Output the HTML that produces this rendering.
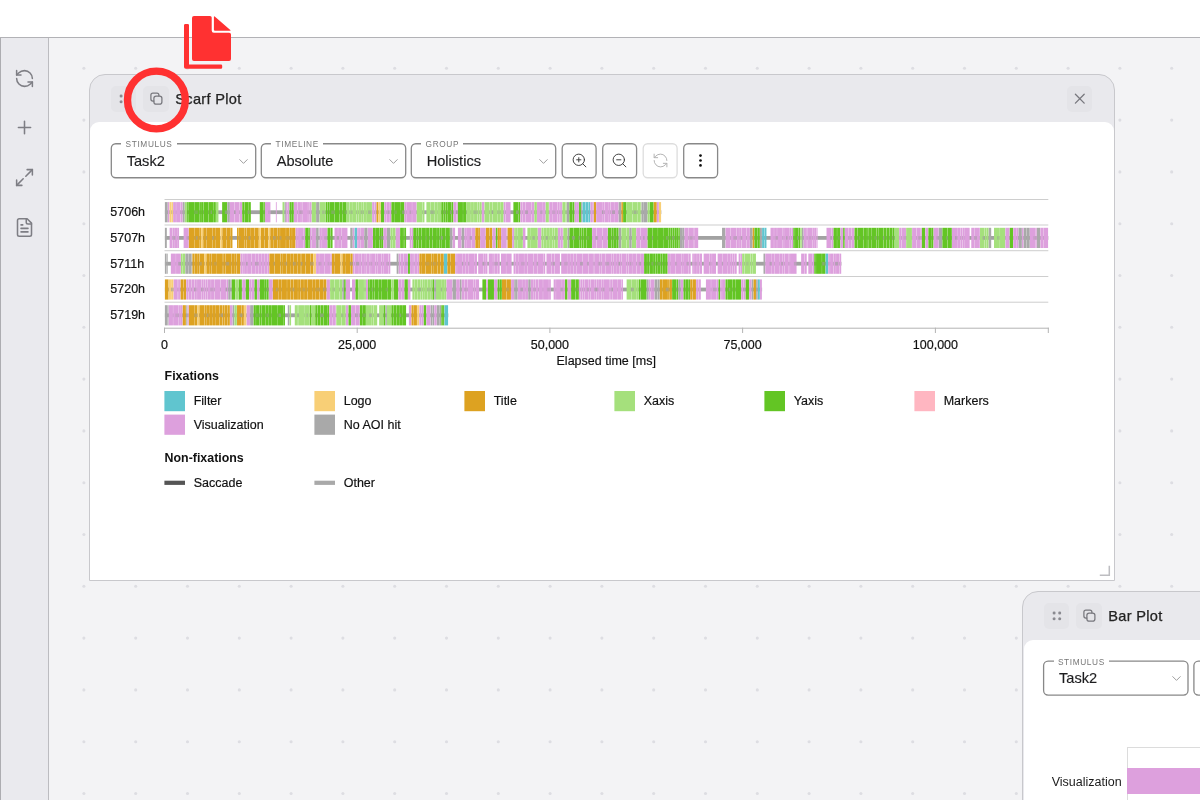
<!DOCTYPE html>
<html lang="en">
<head>
<meta charset="utf-8">
<title>Scarf Plot – duplicate button</title>
<style>
*{box-sizing:border-box;margin:0;padding:0}
html,body{width:1200px;height:800px;overflow:hidden;background:#fff}
body{position:relative;font-family:"Liberation Sans",Arial,sans-serif;color:#1c1c1e}
.abs{position:absolute}
#app{left:0;top:37px;width:1200px;height:763px;background:#f3f3f5;border-top:1px solid #b2b2b6}
#lb{left:0;top:38px;width:1px;height:762px;background:#adadb1}
#side{left:1px;top:38px;width:48px;height:762px;background:#eaeaee;border-right:1px solid #bcbcc0}
.sic{position:absolute;left:13px;width:21px;height:21px;stroke:#7e7e84;stroke-width:1.75;fill:none;stroke-linecap:round;stroke-linejoin:round}
#dots{left:0;top:0;width:1200px;height:800px;fill:#dddde2}
.win{position:absolute;background:#e9e9ed;border:1px solid #c8c8cc;border-radius:16px 16px 0 0}
.body{position:absolute;background:#fff;border-radius:9px 9px 0 0}
.hb{position:absolute;width:25.6px;height:25.6px;border-radius:5px;background:#e4e4e8}
.hb svg{position:absolute;left:0;top:0;width:100%;height:100%;overflow:visible}
.ttl{position:absolute;font-size:14.6px;line-height:16px;letter-spacing:0.3px;white-space:nowrap;color:#222;-webkit-text-stroke:0.25px #222}
.sel{position:absolute;width:143.4px;height:33px}
.sel .lb{position:absolute;left:9.500px;top:-4.800px;padding:0 4.300px;background:#fff;font-size:8.3px;line-height:10px;letter-spacing:0.62px;color:#777;white-space:nowrap}
.sel .v{-webkit-text-stroke:0.15px #1d1d1f;position:absolute;left:14.900px;top:8.500px;font-size:14.6px;line-height:16px;white-space:nowrap;color:#1d1d1f}
.sel svg{position:absolute;right:3.900px;top:9.600px;width:15px;height:15px;stroke:#939393;stroke-width:1.45;fill:none;stroke-linecap:round;stroke-linejoin:round}
.tb{position:absolute;top:144.5px;width:32.8px;height:32.8px}
.tb svg{position:absolute;left:8.200px;top:7.800px;width:17px;height:17px;stroke:#3a3a3a;stroke-width:1.35;fill:none;stroke-linecap:round;stroke-linejoin:round}
.tb.dis svg{stroke:#b0b0b0}
#chart{left:0;top:0;width:1200px;height:800px;overflow:visible}
#chart .ax{font-size:12.5px;fill:#111;stroke:#111;stroke-width:0.18px}
#chart .lh{font-size:12.4px;font-weight:bold;fill:#111}
#ann{left:0;top:0;width:1200px;height:800px;overflow:visible}
</style>
</head>
<body>
<div id="app" class="abs"></div>
<div id="lb" class="abs"></div>
<div id="side" class="abs">
  <svg class="sic" style="top:29.5px" viewBox="0 0 24 24"><path d="M21 12a9 9 0 0 0-9-9 9.75 9.75 0 0 0-6.74 2.74L3 8"/><path d="M3 3v5h5"/><path d="M3 12a9 9 0 0 0 9 9 9.75 9.75 0 0 0 6.74-2.740L21 16"/><path d="M16 16h5v5"/></svg>
  <svg class="sic" style="top:79.3px" viewBox="0 0 24 24"><path d="M5 12h14"/><path d="M12 5v14"/></svg>
  <svg class="sic" style="top:128.7px" viewBox="0 0 24 24"><path d="M15 3h6v6"/><path d="M9 21H3v-6"/><path d="M21 3l-7.500 7.500"/><path d="M3 21l7.500-7.500"/></svg>
  <svg class="sic" style="top:178.5px" viewBox="0 0 24 24"><path d="M15 2H6a2 2 0 0 0-2 2v16a2 2 0 0 0 2 2h12a2 2 0 0 0 2-2V7Z"/><path d="M14 2v4a2 2 0 0 0 2 2h4"/><path d="M10 9H8"/><path d="M16 13H8"/><path d="M16 17H8"/></svg>
</div>
<svg id="dots" class="abs" viewBox="0 0 1200 800"><circle cx="83.9" cy="68.3" r="1.55"/><circle cx="135.7" cy="68.3" r="1.55"/><circle cx="187.5" cy="68.3" r="1.55"/><circle cx="239.3" cy="68.3" r="1.55"/><circle cx="291.1" cy="68.3" r="1.55"/><circle cx="342.9" cy="68.3" r="1.55"/><circle cx="394.7" cy="68.3" r="1.55"/><circle cx="446.5" cy="68.3" r="1.55"/><circle cx="498.3" cy="68.3" r="1.55"/><circle cx="550.1" cy="68.3" r="1.55"/><circle cx="601.9" cy="68.3" r="1.55"/><circle cx="653.7" cy="68.3" r="1.55"/><circle cx="705.5" cy="68.3" r="1.55"/><circle cx="757.3" cy="68.3" r="1.55"/><circle cx="809.1" cy="68.3" r="1.55"/><circle cx="860.9" cy="68.3" r="1.55"/><circle cx="912.7" cy="68.3" r="1.55"/><circle cx="964.5" cy="68.3" r="1.55"/><circle cx="1016.3" cy="68.3" r="1.55"/><circle cx="1068.1" cy="68.3" r="1.55"/><circle cx="1119.9" cy="68.3" r="1.55"/><circle cx="1171.7" cy="68.3" r="1.55"/><circle cx="83.9" cy="120.1" r="1.55"/><circle cx="135.7" cy="120.1" r="1.55"/><circle cx="187.5" cy="120.1" r="1.55"/><circle cx="239.3" cy="120.1" r="1.55"/><circle cx="291.1" cy="120.1" r="1.55"/><circle cx="342.9" cy="120.1" r="1.55"/><circle cx="394.7" cy="120.1" r="1.55"/><circle cx="446.5" cy="120.1" r="1.55"/><circle cx="498.3" cy="120.1" r="1.55"/><circle cx="550.1" cy="120.1" r="1.55"/><circle cx="601.9" cy="120.1" r="1.55"/><circle cx="653.7" cy="120.1" r="1.55"/><circle cx="705.5" cy="120.1" r="1.55"/><circle cx="757.3" cy="120.1" r="1.55"/><circle cx="809.1" cy="120.1" r="1.55"/><circle cx="860.9" cy="120.1" r="1.55"/><circle cx="912.7" cy="120.1" r="1.55"/><circle cx="964.5" cy="120.1" r="1.55"/><circle cx="1016.3" cy="120.1" r="1.55"/><circle cx="1068.1" cy="120.1" r="1.55"/><circle cx="1119.9" cy="120.1" r="1.55"/><circle cx="1171.7" cy="120.1" r="1.55"/><circle cx="83.9" cy="171.9" r="1.55"/><circle cx="135.7" cy="171.9" r="1.55"/><circle cx="187.5" cy="171.9" r="1.55"/><circle cx="239.3" cy="171.9" r="1.55"/><circle cx="291.1" cy="171.9" r="1.55"/><circle cx="342.9" cy="171.9" r="1.55"/><circle cx="394.7" cy="171.9" r="1.55"/><circle cx="446.5" cy="171.9" r="1.55"/><circle cx="498.3" cy="171.9" r="1.55"/><circle cx="550.1" cy="171.9" r="1.55"/><circle cx="601.9" cy="171.9" r="1.55"/><circle cx="653.7" cy="171.9" r="1.55"/><circle cx="705.5" cy="171.9" r="1.55"/><circle cx="757.3" cy="171.9" r="1.55"/><circle cx="809.1" cy="171.9" r="1.55"/><circle cx="860.9" cy="171.9" r="1.55"/><circle cx="912.7" cy="171.9" r="1.55"/><circle cx="964.5" cy="171.9" r="1.55"/><circle cx="1016.3" cy="171.9" r="1.55"/><circle cx="1068.1" cy="171.9" r="1.55"/><circle cx="1119.9" cy="171.9" r="1.55"/><circle cx="1171.7" cy="171.9" r="1.55"/><circle cx="83.9" cy="223.7" r="1.55"/><circle cx="135.7" cy="223.7" r="1.55"/><circle cx="187.5" cy="223.7" r="1.55"/><circle cx="239.3" cy="223.7" r="1.55"/><circle cx="291.1" cy="223.7" r="1.55"/><circle cx="342.9" cy="223.7" r="1.55"/><circle cx="394.7" cy="223.7" r="1.55"/><circle cx="446.5" cy="223.7" r="1.55"/><circle cx="498.3" cy="223.7" r="1.55"/><circle cx="550.1" cy="223.7" r="1.55"/><circle cx="601.9" cy="223.7" r="1.55"/><circle cx="653.7" cy="223.7" r="1.55"/><circle cx="705.5" cy="223.7" r="1.55"/><circle cx="757.3" cy="223.7" r="1.55"/><circle cx="809.1" cy="223.7" r="1.55"/><circle cx="860.9" cy="223.7" r="1.55"/><circle cx="912.7" cy="223.7" r="1.55"/><circle cx="964.5" cy="223.7" r="1.55"/><circle cx="1016.3" cy="223.7" r="1.55"/><circle cx="1068.1" cy="223.7" r="1.55"/><circle cx="1119.9" cy="223.7" r="1.55"/><circle cx="1171.7" cy="223.7" r="1.55"/><circle cx="83.9" cy="275.5" r="1.55"/><circle cx="135.7" cy="275.5" r="1.55"/><circle cx="187.5" cy="275.5" r="1.55"/><circle cx="239.3" cy="275.5" r="1.55"/><circle cx="291.1" cy="275.5" r="1.55"/><circle cx="342.9" cy="275.5" r="1.55"/><circle cx="394.7" cy="275.5" r="1.55"/><circle cx="446.5" cy="275.5" r="1.55"/><circle cx="498.3" cy="275.5" r="1.55"/><circle cx="550.1" cy="275.5" r="1.55"/><circle cx="601.9" cy="275.5" r="1.55"/><circle cx="653.7" cy="275.5" r="1.55"/><circle cx="705.5" cy="275.5" r="1.55"/><circle cx="757.3" cy="275.5" r="1.55"/><circle cx="809.1" cy="275.5" r="1.55"/><circle cx="860.9" cy="275.5" r="1.55"/><circle cx="912.7" cy="275.5" r="1.55"/><circle cx="964.5" cy="275.5" r="1.55"/><circle cx="1016.3" cy="275.5" r="1.55"/><circle cx="1068.1" cy="275.5" r="1.55"/><circle cx="1119.9" cy="275.5" r="1.55"/><circle cx="1171.7" cy="275.5" r="1.55"/><circle cx="83.9" cy="327.3" r="1.55"/><circle cx="135.7" cy="327.3" r="1.55"/><circle cx="187.5" cy="327.3" r="1.55"/><circle cx="239.3" cy="327.3" r="1.55"/><circle cx="291.1" cy="327.3" r="1.55"/><circle cx="342.9" cy="327.3" r="1.55"/><circle cx="394.7" cy="327.3" r="1.55"/><circle cx="446.5" cy="327.3" r="1.55"/><circle cx="498.3" cy="327.3" r="1.55"/><circle cx="550.1" cy="327.3" r="1.55"/><circle cx="601.9" cy="327.3" r="1.55"/><circle cx="653.7" cy="327.3" r="1.55"/><circle cx="705.5" cy="327.3" r="1.55"/><circle cx="757.3" cy="327.3" r="1.55"/><circle cx="809.1" cy="327.3" r="1.55"/><circle cx="860.9" cy="327.3" r="1.55"/><circle cx="912.7" cy="327.3" r="1.55"/><circle cx="964.5" cy="327.3" r="1.55"/><circle cx="1016.3" cy="327.3" r="1.55"/><circle cx="1068.1" cy="327.3" r="1.55"/><circle cx="1119.9" cy="327.3" r="1.55"/><circle cx="1171.7" cy="327.3" r="1.55"/><circle cx="83.9" cy="379.1" r="1.55"/><circle cx="135.7" cy="379.1" r="1.55"/><circle cx="187.5" cy="379.1" r="1.55"/><circle cx="239.3" cy="379.1" r="1.55"/><circle cx="291.1" cy="379.1" r="1.55"/><circle cx="342.9" cy="379.1" r="1.55"/><circle cx="394.7" cy="379.1" r="1.55"/><circle cx="446.5" cy="379.1" r="1.55"/><circle cx="498.3" cy="379.1" r="1.55"/><circle cx="550.1" cy="379.1" r="1.55"/><circle cx="601.9" cy="379.1" r="1.55"/><circle cx="653.7" cy="379.1" r="1.55"/><circle cx="705.5" cy="379.1" r="1.55"/><circle cx="757.3" cy="379.1" r="1.55"/><circle cx="809.1" cy="379.1" r="1.55"/><circle cx="860.9" cy="379.1" r="1.55"/><circle cx="912.7" cy="379.1" r="1.55"/><circle cx="964.5" cy="379.1" r="1.55"/><circle cx="1016.3" cy="379.1" r="1.55"/><circle cx="1068.1" cy="379.1" r="1.55"/><circle cx="1119.9" cy="379.1" r="1.55"/><circle cx="1171.7" cy="379.1" r="1.55"/><circle cx="83.9" cy="430.9" r="1.55"/><circle cx="135.7" cy="430.9" r="1.55"/><circle cx="187.5" cy="430.9" r="1.55"/><circle cx="239.3" cy="430.9" r="1.55"/><circle cx="291.1" cy="430.9" r="1.55"/><circle cx="342.9" cy="430.9" r="1.55"/><circle cx="394.7" cy="430.9" r="1.55"/><circle cx="446.5" cy="430.9" r="1.55"/><circle cx="498.3" cy="430.9" r="1.55"/><circle cx="550.1" cy="430.9" r="1.55"/><circle cx="601.9" cy="430.9" r="1.55"/><circle cx="653.7" cy="430.9" r="1.55"/><circle cx="705.5" cy="430.9" r="1.55"/><circle cx="757.3" cy="430.9" r="1.55"/><circle cx="809.1" cy="430.9" r="1.55"/><circle cx="860.9" cy="430.9" r="1.55"/><circle cx="912.7" cy="430.9" r="1.55"/><circle cx="964.5" cy="430.9" r="1.55"/><circle cx="1016.3" cy="430.9" r="1.55"/><circle cx="1068.1" cy="430.9" r="1.55"/><circle cx="1119.9" cy="430.9" r="1.55"/><circle cx="1171.7" cy="430.9" r="1.55"/><circle cx="83.9" cy="482.7" r="1.55"/><circle cx="135.7" cy="482.7" r="1.55"/><circle cx="187.5" cy="482.7" r="1.55"/><circle cx="239.3" cy="482.7" r="1.55"/><circle cx="291.1" cy="482.7" r="1.55"/><circle cx="342.9" cy="482.7" r="1.55"/><circle cx="394.7" cy="482.7" r="1.55"/><circle cx="446.5" cy="482.7" r="1.55"/><circle cx="498.3" cy="482.7" r="1.55"/><circle cx="550.1" cy="482.7" r="1.55"/><circle cx="601.9" cy="482.7" r="1.55"/><circle cx="653.7" cy="482.7" r="1.55"/><circle cx="705.5" cy="482.7" r="1.55"/><circle cx="757.3" cy="482.7" r="1.55"/><circle cx="809.1" cy="482.7" r="1.55"/><circle cx="860.9" cy="482.7" r="1.55"/><circle cx="912.7" cy="482.7" r="1.55"/><circle cx="964.5" cy="482.7" r="1.55"/><circle cx="1016.3" cy="482.7" r="1.55"/><circle cx="1068.1" cy="482.7" r="1.55"/><circle cx="1119.9" cy="482.7" r="1.55"/><circle cx="1171.7" cy="482.7" r="1.55"/><circle cx="83.9" cy="534.5" r="1.55"/><circle cx="135.7" cy="534.5" r="1.55"/><circle cx="187.5" cy="534.5" r="1.55"/><circle cx="239.3" cy="534.5" r="1.55"/><circle cx="291.1" cy="534.5" r="1.55"/><circle cx="342.9" cy="534.5" r="1.55"/><circle cx="394.7" cy="534.5" r="1.55"/><circle cx="446.5" cy="534.5" r="1.55"/><circle cx="498.3" cy="534.5" r="1.55"/><circle cx="550.1" cy="534.5" r="1.55"/><circle cx="601.9" cy="534.5" r="1.55"/><circle cx="653.7" cy="534.5" r="1.55"/><circle cx="705.5" cy="534.5" r="1.55"/><circle cx="757.3" cy="534.5" r="1.55"/><circle cx="809.1" cy="534.5" r="1.55"/><circle cx="860.9" cy="534.5" r="1.55"/><circle cx="912.7" cy="534.5" r="1.55"/><circle cx="964.5" cy="534.5" r="1.55"/><circle cx="1016.3" cy="534.5" r="1.55"/><circle cx="1068.1" cy="534.5" r="1.55"/><circle cx="1119.9" cy="534.5" r="1.55"/><circle cx="1171.7" cy="534.5" r="1.55"/><circle cx="83.9" cy="586.3" r="1.55"/><circle cx="135.7" cy="586.3" r="1.55"/><circle cx="187.5" cy="586.3" r="1.55"/><circle cx="239.3" cy="586.3" r="1.55"/><circle cx="291.1" cy="586.3" r="1.55"/><circle cx="342.9" cy="586.3" r="1.55"/><circle cx="394.7" cy="586.3" r="1.55"/><circle cx="446.5" cy="586.3" r="1.55"/><circle cx="498.3" cy="586.3" r="1.55"/><circle cx="550.1" cy="586.3" r="1.55"/><circle cx="601.9" cy="586.3" r="1.55"/><circle cx="653.7" cy="586.3" r="1.55"/><circle cx="705.5" cy="586.3" r="1.55"/><circle cx="757.3" cy="586.3" r="1.55"/><circle cx="809.1" cy="586.3" r="1.55"/><circle cx="860.9" cy="586.3" r="1.55"/><circle cx="912.7" cy="586.3" r="1.55"/><circle cx="964.5" cy="586.3" r="1.55"/><circle cx="1016.3" cy="586.3" r="1.55"/><circle cx="1068.1" cy="586.3" r="1.55"/><circle cx="1119.9" cy="586.3" r="1.55"/><circle cx="1171.7" cy="586.3" r="1.55"/><circle cx="83.9" cy="638.1" r="1.55"/><circle cx="135.7" cy="638.1" r="1.55"/><circle cx="187.5" cy="638.1" r="1.55"/><circle cx="239.3" cy="638.1" r="1.55"/><circle cx="291.1" cy="638.1" r="1.55"/><circle cx="342.9" cy="638.1" r="1.55"/><circle cx="394.7" cy="638.1" r="1.55"/><circle cx="446.5" cy="638.1" r="1.55"/><circle cx="498.3" cy="638.1" r="1.55"/><circle cx="550.1" cy="638.1" r="1.55"/><circle cx="601.9" cy="638.1" r="1.55"/><circle cx="653.7" cy="638.1" r="1.55"/><circle cx="705.5" cy="638.1" r="1.55"/><circle cx="757.3" cy="638.1" r="1.55"/><circle cx="809.1" cy="638.1" r="1.55"/><circle cx="860.9" cy="638.1" r="1.55"/><circle cx="912.7" cy="638.1" r="1.55"/><circle cx="964.5" cy="638.1" r="1.55"/><circle cx="1016.3" cy="638.1" r="1.55"/><circle cx="1068.1" cy="638.1" r="1.55"/><circle cx="1119.9" cy="638.1" r="1.55"/><circle cx="1171.7" cy="638.1" r="1.55"/><circle cx="83.9" cy="689.9" r="1.55"/><circle cx="135.7" cy="689.9" r="1.55"/><circle cx="187.5" cy="689.9" r="1.55"/><circle cx="239.3" cy="689.9" r="1.55"/><circle cx="291.1" cy="689.9" r="1.55"/><circle cx="342.9" cy="689.9" r="1.55"/><circle cx="394.7" cy="689.9" r="1.55"/><circle cx="446.5" cy="689.9" r="1.55"/><circle cx="498.3" cy="689.9" r="1.55"/><circle cx="550.1" cy="689.9" r="1.55"/><circle cx="601.9" cy="689.9" r="1.55"/><circle cx="653.7" cy="689.9" r="1.55"/><circle cx="705.5" cy="689.9" r="1.55"/><circle cx="757.3" cy="689.9" r="1.55"/><circle cx="809.1" cy="689.9" r="1.55"/><circle cx="860.9" cy="689.9" r="1.55"/><circle cx="912.7" cy="689.9" r="1.55"/><circle cx="964.5" cy="689.9" r="1.55"/><circle cx="1016.3" cy="689.9" r="1.55"/><circle cx="1068.1" cy="689.9" r="1.55"/><circle cx="1119.9" cy="689.9" r="1.55"/><circle cx="1171.7" cy="689.9" r="1.55"/><circle cx="83.9" cy="741.7" r="1.55"/><circle cx="135.7" cy="741.7" r="1.55"/><circle cx="187.5" cy="741.7" r="1.55"/><circle cx="239.3" cy="741.7" r="1.55"/><circle cx="291.1" cy="741.7" r="1.55"/><circle cx="342.9" cy="741.7" r="1.55"/><circle cx="394.7" cy="741.7" r="1.55"/><circle cx="446.5" cy="741.7" r="1.55"/><circle cx="498.3" cy="741.7" r="1.55"/><circle cx="550.1" cy="741.7" r="1.55"/><circle cx="601.9" cy="741.7" r="1.55"/><circle cx="653.7" cy="741.7" r="1.55"/><circle cx="705.5" cy="741.7" r="1.55"/><circle cx="757.3" cy="741.7" r="1.55"/><circle cx="809.1" cy="741.7" r="1.55"/><circle cx="860.9" cy="741.7" r="1.55"/><circle cx="912.7" cy="741.7" r="1.55"/><circle cx="964.5" cy="741.7" r="1.55"/><circle cx="1016.3" cy="741.7" r="1.55"/><circle cx="1068.1" cy="741.7" r="1.55"/><circle cx="1119.9" cy="741.7" r="1.55"/><circle cx="1171.7" cy="741.7" r="1.55"/><circle cx="83.9" cy="793.5" r="1.55"/><circle cx="135.7" cy="793.5" r="1.55"/><circle cx="187.5" cy="793.5" r="1.55"/><circle cx="239.3" cy="793.5" r="1.55"/><circle cx="291.1" cy="793.5" r="1.55"/><circle cx="342.9" cy="793.5" r="1.55"/><circle cx="394.7" cy="793.5" r="1.55"/><circle cx="446.5" cy="793.5" r="1.55"/><circle cx="498.3" cy="793.5" r="1.55"/><circle cx="550.1" cy="793.5" r="1.55"/><circle cx="601.9" cy="793.5" r="1.55"/><circle cx="653.7" cy="793.5" r="1.55"/><circle cx="705.5" cy="793.5" r="1.55"/><circle cx="757.3" cy="793.5" r="1.55"/><circle cx="809.1" cy="793.5" r="1.55"/><circle cx="860.9" cy="793.5" r="1.55"/><circle cx="912.7" cy="793.5" r="1.55"/><circle cx="964.5" cy="793.5" r="1.55"/><circle cx="1016.3" cy="793.5" r="1.55"/><circle cx="1068.1" cy="793.5" r="1.55"/><circle cx="1119.9" cy="793.5" r="1.55"/><circle cx="1171.7" cy="793.5" r="1.55"/></svg>

<!-- Scarf Plot window -->
<div class="win" style="left:89.1px;top:73.8px;width:1026px;height:507.2px">
</div>
<div class="body" style="left:90.300px;top:122.200px;width:1023.700px;height:457.800px"></div>
<div class="hb" style="left:110.6px;top:86.1px"><svg viewBox="0 0 25.6 25.6"><g fill="#8a8a90"><circle cx="10.100" cy="10.100" r="1.500"/><circle cx="15.700" cy="10.100" r="1.500"/><circle cx="10.100" cy="15.700" r="1.500"/><circle cx="15.700" cy="15.700" r="1.500"/></g></svg></div>
<div class="hb" style="left:143px;top:86.1px"><svg viewBox="0 0 25.6 25.6"><g fill="none" stroke="#77777d" stroke-width="1.25" stroke-linejoin="round" stroke-linecap="round"><rect x="10.900" y="10.100" width="8" height="8" rx="2.200"/><path d="M10.900 15.100H9.900a2 2 0 0 1-2-2V9.100a2 2 0 0 1 2-2H13.900a2 2 0 0 1 2 2V10"/></g></svg></div>
<div class="ttl" style="left:175.3px;top:90.5px">Scarf Plot</div>
<div class="hb" style="left:1066.8px;top:86.100px"><svg viewBox="0 0 25.6 25.6"><path d="M8.400 8.300l8.800 8.800M17.200 8.300l-8.800 8.800" stroke="#77777d" stroke-width="1.300" stroke-linecap="round" fill="none"/></svg></div>

<svg id="ol" class="abs" viewBox="0 0 1200 800" style="left:0;top:0;width:1200px;height:800px;overflow:visible"><g fill="#fff" stroke="#888888" stroke-width="1.3">
<rect x="111.3" y="143.750" width="144.400" height="34" rx="4.500"/>
<rect x="261.3" y="143.750" width="144.400" height="34" rx="4.500"/>
<rect x="411.3" y="143.750" width="144.400" height="34" rx="4.500"/>
<rect x="562.2" y="143.750" width="33.900" height="34" rx="4.500"/>
<rect x="602.7" y="143.750" width="33.900" height="34" rx="4.500"/>
<rect x="683.7" y="143.750" width="33.900" height="34" rx="4.500"/>
<rect x="643.200" y="143.750" width="33.900" height="34" rx="4.500" stroke="#dddddd"/>
</g></svg>
<div class="sel" style="left:111.8px;top:144px"><span class="lb">STIMULUS</span><span class="v">Task2</span><svg viewBox="0 0 24 24"><path d="m6 9 6 6 6-6"/></svg></div>
<div class="sel" style="left:261.8px;top:144px"><span class="lb">TIMELINE</span><span class="v">Absolute</span><svg viewBox="0 0 24 24"><path d="m6 9 6 6 6-6"/></svg></div>
<div class="sel" style="left:411.8px;top:144px"><span class="lb">GROUP</span><span class="v">Holistics</span><svg viewBox="0 0 24 24"><path d="m6 9 6 6 6-6"/></svg></div>

<div class="tb" style="left:562.7px"><svg viewBox="0 0 24 24"><circle cx="11" cy="11" r="8"/><path d="M21 21l-4.350-4.350M11 8v6M8 11h6"/></svg></div>
<div class="tb" style="left:603.2px"><svg viewBox="0 0 24 24"><circle cx="11" cy="11" r="8"/><path d="M21 21l-4.350-4.350M8 11h6"/></svg></div>
<div class="tb dis" style="left:643.7px"><svg viewBox="0 0 24 24"><path d="M21 12a9 9 0 0 0-9-9 9.750 9.750 0 0 0-6.740 2.740L3 8"/><path d="M3 3v5h5"/><path d="M3 12a9 9 0 0 0 9 9 9.750 9.750 0 0 0 6.740-2.740L21 16"/><path d="M16 16h5v5"/></svg></div>
<div class="tb" style="left:684.2px"><svg viewBox="0 0 24 24"><g fill="#111" stroke="none"><circle cx="12" cy="5" r="1.9"/><circle cx="12" cy="12" r="1.9"/><circle cx="12" cy="19" r="1.9"/></g></svg></div>

<svg id="chart" class="abs" viewBox="0 0 1200 800">
<rect x="164.5" y="199.00" width="883.8" height="1" fill="#cecece"/>
<rect x="164.5" y="224.50" width="883.8" height="1" fill="#cecece"/>
<rect x="164.5" y="250.20" width="883.8" height="1" fill="#cecece"/>
<rect x="164.5" y="276.00" width="883.8" height="1" fill="#cecece"/>
<rect x="164.5" y="301.70" width="883.8" height="1" fill="#cecece"/>
<rect x="164.90" y="210.30" width="496.39" height="3.8" fill="#a2a2a2"/>
<rect x="164.90" y="202.1" width="2.78" height="20.2" fill="#a9a9a9"/>
<rect x="167.88" y="202.1" width="1.55" height="20.2" fill="#dda0dd"/>
<rect x="169.63" y="202.1" width="1.60" height="20.2" fill="#f8cf76"/>
<rect x="171.43" y="202.1" width="1.50" height="20.2" fill="#f8cf76"/>
<rect x="173.13" y="202.1" width="2.80" height="20.2" fill="#dda0dd"/>
<rect x="176.13" y="202.1" width="4.20" height="20.2" fill="#dda0dd"/>
<rect x="180.53" y="202.1" width="2.03" height="20.2" fill="#dda0dd"/>
<rect x="180.59" y="210.40" width="1.8" height="3.6" fill="#9c9c9c" fill-opacity="0.3"/>
<rect x="182.76" y="202.1" width="1.90" height="20.2" fill="#a9a9a9"/>
<rect x="184.86" y="202.1" width="2.08" height="20.2" fill="#a5e07c"/>
<rect x="187.13" y="202.1" width="1.60" height="20.2" fill="#63c524"/>
<rect x="188.93" y="202.1" width="5.80" height="20.2" fill="#63c524"/>
<rect x="194.93" y="202.1" width="4.20" height="20.2" fill="#63c524"/>
<rect x="199.33" y="202.1" width="1.60" height="20.2" fill="#63c524"/>
<rect x="201.13" y="202.1" width="2.20" height="20.2" fill="#63c524"/>
<rect x="203.53" y="202.1" width="5.00" height="20.2" fill="#63c524"/>
<rect x="208.73" y="202.1" width="5.00" height="20.2" fill="#63c524"/>
<rect x="213.93" y="202.1" width="1.88" height="20.2" fill="#63c524"/>
<rect x="194.82" y="210.40" width="3.0" height="3.6" fill="#9c9c9c" fill-opacity="0.3"/>
<rect x="210.58" y="210.40" width="1.4" height="3.6" fill="#9c9c9c" fill-opacity="0.6"/>
<rect x="216.01" y="202.1" width="2.43" height="20.2" fill="#a5e07c"/>
<rect x="222.14" y="202.1" width="5.05" height="20.2" fill="#63c524"/>
<rect x="224.85" y="210.40" width="2.4" height="3.6" fill="#9c9c9c" fill-opacity="0.6"/>
<rect x="227.39" y="202.1" width="2.43" height="20.2" fill="#a9a9a9"/>
<rect x="230.02" y="202.1" width="4.20" height="20.2" fill="#dda0dd"/>
<rect x="234.42" y="202.1" width="5.00" height="20.2" fill="#dda0dd"/>
<rect x="239.62" y="202.1" width="2.45" height="20.2" fill="#dda0dd"/>
<rect x="234.25" y="210.40" width="1.4" height="3.6" fill="#9c9c9c" fill-opacity="0.6"/>
<rect x="242.27" y="202.1" width="2.20" height="20.2" fill="#63c524"/>
<rect x="244.67" y="202.1" width="3.40" height="20.2" fill="#63c524"/>
<rect x="248.27" y="202.1" width="2.55" height="20.2" fill="#63c524"/>
<rect x="247.46" y="210.40" width="2.4" height="3.6" fill="#9c9c9c" fill-opacity="0.45"/>
<rect x="259.77" y="202.1" width="3.40" height="20.2" fill="#63c524"/>
<rect x="263.37" y="202.1" width="1.45" height="20.2" fill="#63c524"/>
<rect x="265.02" y="202.1" width="5.40" height="20.2" fill="#dda0dd"/>
<rect x="268.10" y="210.40" width="1.8" height="3.6" fill="#9c9c9c" fill-opacity="0.3"/>
<rect x="275.88" y="202.1" width="0.85" height="20.2" fill="#dda0dd"/>
<rect x="282.53" y="202.1" width="1.90" height="20.2" fill="#a5e07c"/>
<rect x="284.63" y="202.1" width="1.20" height="20.2" fill="#a9a9a9"/>
<rect x="286.03" y="202.1" width="1.60" height="20.2" fill="#dda0dd"/>
<rect x="287.83" y="202.1" width="1.50" height="20.2" fill="#dda0dd"/>
<rect x="289.53" y="202.1" width="2.20" height="20.2" fill="#63c524"/>
<rect x="291.93" y="202.1" width="1.78" height="20.2" fill="#63c524"/>
<rect x="293.91" y="202.1" width="3.40" height="20.2" fill="#dda0dd"/>
<rect x="297.51" y="202.1" width="3.40" height="20.2" fill="#dda0dd"/>
<rect x="301.11" y="202.1" width="1.60" height="20.2" fill="#dda0dd"/>
<rect x="302.91" y="202.1" width="5.00" height="20.2" fill="#dda0dd"/>
<rect x="308.11" y="202.1" width="1.60" height="20.2" fill="#dda0dd"/>
<rect x="309.91" y="202.1" width="1.65" height="20.2" fill="#dda0dd"/>
<rect x="299.25" y="210.40" width="2.4" height="3.6" fill="#9c9c9c" fill-opacity="0.45"/>
<rect x="311.75" y="202.1" width="4.18" height="20.2" fill="#a5e07c"/>
<rect x="316.13" y="202.1" width="3.30" height="20.2" fill="#a9a9a9"/>
<rect x="319.63" y="202.1" width="5.93" height="20.2" fill="#a5e07c"/>
<rect x="322.19" y="210.40" width="2.4" height="3.6" fill="#9c9c9c" fill-opacity="0.45"/>
<rect x="325.75" y="202.1" width="1.60" height="20.2" fill="#63c524"/>
<rect x="327.55" y="202.1" width="1.60" height="20.2" fill="#63c524"/>
<rect x="329.35" y="202.1" width="5.00" height="20.2" fill="#63c524"/>
<rect x="334.55" y="202.1" width="5.00" height="20.2" fill="#63c524"/>
<rect x="339.75" y="202.1" width="2.80" height="20.2" fill="#63c524"/>
<rect x="342.75" y="202.1" width="3.80" height="20.2" fill="#63c524"/>
<rect x="331.22" y="210.40" width="3.0" height="3.6" fill="#9c9c9c" fill-opacity="0.45"/>
<rect x="344.39" y="210.40" width="2.4" height="3.6" fill="#9c9c9c" fill-opacity="0.3"/>
<rect x="346.76" y="202.1" width="2.80" height="20.2" fill="#a5e07c"/>
<rect x="349.76" y="202.1" width="2.20" height="20.2" fill="#a5e07c"/>
<rect x="352.16" y="202.1" width="4.20" height="20.2" fill="#a5e07c"/>
<rect x="356.56" y="202.1" width="1.60" height="20.2" fill="#a5e07c"/>
<rect x="358.36" y="202.1" width="3.40" height="20.2" fill="#a5e07c"/>
<rect x="361.96" y="202.1" width="1.60" height="20.2" fill="#a5e07c"/>
<rect x="363.76" y="202.1" width="2.20" height="20.2" fill="#a5e07c"/>
<rect x="366.16" y="202.1" width="5.78" height="20.2" fill="#a5e07c"/>
<rect x="350.48" y="210.40" width="1.8" height="3.6" fill="#9c9c9c" fill-opacity="0.45"/>
<rect x="360.39" y="210.40" width="3.0" height="3.6" fill="#9c9c9c" fill-opacity="0.3"/>
<rect x="368.06" y="210.40" width="3.0" height="3.6" fill="#9c9c9c" fill-opacity="0.6"/>
<rect x="372.14" y="202.1" width="2.20" height="20.2" fill="#dda0dd"/>
<rect x="374.54" y="202.1" width="1.78" height="20.2" fill="#dda0dd"/>
<rect x="376.51" y="202.1" width="1.90" height="20.2" fill="#dda221"/>
<rect x="378.62" y="202.1" width="2.08" height="20.2" fill="#f8cf76"/>
<rect x="380.89" y="202.1" width="3.30" height="20.2" fill="#63c524"/>
<rect x="384.39" y="202.1" width="2.20" height="20.2" fill="#dda0dd"/>
<rect x="386.79" y="202.1" width="2.20" height="20.2" fill="#dda0dd"/>
<rect x="389.19" y="202.1" width="2.00" height="20.2" fill="#dda0dd"/>
<rect x="387.45" y="210.40" width="1.8" height="3.6" fill="#9c9c9c" fill-opacity="0.6"/>
<rect x="391.39" y="202.1" width="3.40" height="20.2" fill="#63c524"/>
<rect x="394.99" y="202.1" width="5.80" height="20.2" fill="#63c524"/>
<rect x="400.99" y="202.1" width="3.33" height="20.2" fill="#63c524"/>
<rect x="394.49" y="210.40" width="2.4" height="3.6" fill="#9c9c9c" fill-opacity="0.3"/>
<rect x="401.94" y="210.40" width="2.4" height="3.6" fill="#9c9c9c" fill-opacity="0.6"/>
<rect x="404.52" y="202.1" width="2.20" height="20.2" fill="#dda0dd"/>
<rect x="406.92" y="202.1" width="5.00" height="20.2" fill="#dda0dd"/>
<rect x="412.12" y="202.1" width="4.45" height="20.2" fill="#dda0dd"/>
<rect x="409.61" y="210.40" width="1.4" height="3.6" fill="#9c9c9c" fill-opacity="0.45"/>
<rect x="416.77" y="202.1" width="5.80" height="20.2" fill="#a5e07c"/>
<rect x="422.77" y="202.1" width="1.68" height="20.2" fill="#a5e07c"/>
<rect x="426.40" y="202.1" width="4.20" height="20.2" fill="#a5e07c"/>
<rect x="430.80" y="202.1" width="3.40" height="20.2" fill="#a5e07c"/>
<rect x="434.40" y="202.1" width="3.40" height="20.2" fill="#a5e07c"/>
<rect x="438.00" y="202.1" width="3.08" height="20.2" fill="#a5e07c"/>
<rect x="430.77" y="210.40" width="3.0" height="3.6" fill="#9c9c9c" fill-opacity="0.6"/>
<rect x="441.28" y="202.1" width="2.20" height="20.2" fill="#63c524"/>
<rect x="443.68" y="202.1" width="1.60" height="20.2" fill="#63c524"/>
<rect x="445.48" y="202.1" width="2.20" height="20.2" fill="#63c524"/>
<rect x="447.88" y="202.1" width="3.40" height="20.2" fill="#63c524"/>
<rect x="451.48" y="202.1" width="1.85" height="20.2" fill="#63c524"/>
<rect x="443.94" y="210.40" width="1.4" height="3.6" fill="#9c9c9c" fill-opacity="0.3"/>
<rect x="449.94" y="210.40" width="1.8" height="3.6" fill="#9c9c9c" fill-opacity="0.6"/>
<rect x="453.53" y="202.1" width="2.80" height="20.2" fill="#dda0dd"/>
<rect x="456.53" y="202.1" width="1.18" height="20.2" fill="#dda0dd"/>
<rect x="455.69" y="210.40" width="1.8" height="3.6" fill="#9c9c9c" fill-opacity="0.6"/>
<rect x="457.91" y="202.1" width="5.00" height="20.2" fill="#63c524"/>
<rect x="463.11" y="202.1" width="3.34" height="20.2" fill="#63c524"/>
<rect x="466.65" y="202.1" width="4.20" height="20.2" fill="#a5e07c"/>
<rect x="471.05" y="202.1" width="2.80" height="20.2" fill="#a5e07c"/>
<rect x="474.05" y="202.1" width="3.40" height="20.2" fill="#a5e07c"/>
<rect x="477.65" y="202.1" width="1.60" height="20.2" fill="#a5e07c"/>
<rect x="479.45" y="202.1" width="2.23" height="20.2" fill="#a5e07c"/>
<rect x="473.75" y="210.40" width="3.0" height="3.6" fill="#9c9c9c" fill-opacity="0.45"/>
<rect x="481.88" y="202.1" width="2.43" height="20.2" fill="#dda0dd"/>
<rect x="484.51" y="202.1" width="5.00" height="20.2" fill="#a5e07c"/>
<rect x="489.71" y="202.1" width="2.80" height="20.2" fill="#a5e07c"/>
<rect x="492.71" y="202.1" width="5.00" height="20.2" fill="#a5e07c"/>
<rect x="497.91" y="202.1" width="2.80" height="20.2" fill="#a5e07c"/>
<rect x="500.91" y="202.1" width="2.65" height="20.2" fill="#a5e07c"/>
<rect x="491.48" y="210.40" width="1.8" height="3.6" fill="#9c9c9c" fill-opacity="0.6"/>
<rect x="497.71" y="210.40" width="2.4" height="3.6" fill="#9c9c9c" fill-opacity="0.3"/>
<rect x="503.76" y="202.1" width="1.60" height="20.2" fill="#dda0dd"/>
<rect x="505.56" y="202.1" width="5.00" height="20.2" fill="#dda0dd"/>
<rect x="513.39" y="202.1" width="5.00" height="20.2" fill="#63c524"/>
<rect x="518.59" y="202.1" width="1.60" height="20.2" fill="#63c524"/>
<rect x="515.93" y="210.40" width="2.4" height="3.6" fill="#9c9c9c" fill-opacity="0.6"/>
<rect x="520.39" y="202.1" width="2.20" height="20.2" fill="#dda0dd"/>
<rect x="522.79" y="202.1" width="2.80" height="20.2" fill="#dda0dd"/>
<rect x="525.79" y="202.1" width="5.80" height="20.2" fill="#dda0dd"/>
<rect x="531.79" y="202.1" width="2.40" height="20.2" fill="#dda0dd"/>
<rect x="525.58" y="210.40" width="2.4" height="3.6" fill="#9c9c9c" fill-opacity="0.6"/>
<rect x="534.39" y="202.1" width="2.43" height="20.2" fill="#a5e07c"/>
<rect x="537.02" y="202.1" width="5.80" height="20.2" fill="#dda0dd"/>
<rect x="543.02" y="202.1" width="2.55" height="20.2" fill="#dda0dd"/>
<rect x="540.19" y="210.40" width="1.8" height="3.6" fill="#9c9c9c" fill-opacity="0.45"/>
<rect x="545.77" y="202.1" width="2.20" height="20.2" fill="#a5e07c"/>
<rect x="548.17" y="202.1" width="0.90" height="20.2" fill="#a5e07c"/>
<rect x="549.27" y="202.1" width="2.80" height="20.2" fill="#dda0dd"/>
<rect x="552.27" y="202.1" width="5.00" height="20.2" fill="#dda0dd"/>
<rect x="557.47" y="202.1" width="1.60" height="20.2" fill="#dda0dd"/>
<rect x="559.27" y="202.1" width="1.60" height="20.2" fill="#dda0dd"/>
<rect x="561.07" y="202.1" width="1.13" height="20.2" fill="#dda0dd"/>
<rect x="552.95" y="210.40" width="2.4" height="3.6" fill="#9c9c9c" fill-opacity="0.3"/>
<rect x="562.40" y="202.1" width="2.80" height="20.2" fill="#a5e07c"/>
<rect x="565.40" y="202.1" width="1.18" height="20.2" fill="#a5e07c"/>
<rect x="566.77" y="202.1" width="2.43" height="20.2" fill="#a9a9a9"/>
<rect x="569.40" y="202.1" width="2.80" height="20.2" fill="#63c524"/>
<rect x="572.40" y="202.1" width="2.05" height="20.2" fill="#63c524"/>
<rect x="574.65" y="202.1" width="2.20" height="20.2" fill="#dda0dd"/>
<rect x="577.05" y="202.1" width="1.78" height="20.2" fill="#dda0dd"/>
<rect x="579.03" y="202.1" width="1.90" height="20.2" fill="#63c524"/>
<rect x="581.13" y="202.1" width="1.20" height="20.2" fill="#a9a9a9"/>
<rect x="582.53" y="202.1" width="2.80" height="20.2" fill="#60c5cf"/>
<rect x="585.53" y="202.1" width="2.80" height="20.2" fill="#60c5cf"/>
<rect x="588.53" y="202.1" width="1.68" height="20.2" fill="#60c5cf"/>
<rect x="590.40" y="202.1" width="1.60" height="20.2" fill="#dda0dd"/>
<rect x="592.20" y="202.1" width="1.50" height="20.2" fill="#dda0dd"/>
<rect x="593.91" y="202.1" width="2.08" height="20.2" fill="#dda221"/>
<rect x="596.18" y="202.1" width="5.80" height="20.2" fill="#dda0dd"/>
<rect x="602.18" y="202.1" width="2.20" height="20.2" fill="#dda0dd"/>
<rect x="604.58" y="202.1" width="3.40" height="20.2" fill="#dda0dd"/>
<rect x="608.18" y="202.1" width="2.20" height="20.2" fill="#dda0dd"/>
<rect x="610.58" y="202.1" width="3.40" height="20.2" fill="#dda0dd"/>
<rect x="614.18" y="202.1" width="4.37" height="20.2" fill="#dda0dd"/>
<rect x="602.00" y="210.40" width="1.4" height="3.6" fill="#9c9c9c" fill-opacity="0.6"/>
<rect x="611.95" y="210.40" width="3.0" height="3.6" fill="#9c9c9c" fill-opacity="0.6"/>
<rect x="618.75" y="202.1" width="2.43" height="20.2" fill="#a9a9a9"/>
<rect x="621.38" y="202.1" width="1.55" height="20.2" fill="#dda221"/>
<rect x="623.13" y="202.1" width="3.30" height="20.2" fill="#63c524"/>
<rect x="626.63" y="202.1" width="5.80" height="20.2" fill="#a5e07c"/>
<rect x="632.63" y="202.1" width="5.00" height="20.2" fill="#a5e07c"/>
<rect x="637.83" y="202.1" width="2.20" height="20.2" fill="#a5e07c"/>
<rect x="640.23" y="202.1" width="1.08" height="20.2" fill="#a5e07c"/>
<rect x="633.59" y="210.40" width="3.0" height="3.6" fill="#9c9c9c" fill-opacity="0.6"/>
<rect x="641.51" y="202.1" width="2.20" height="20.2" fill="#a9a9a9"/>
<rect x="643.91" y="202.1" width="3.53" height="20.2" fill="#a9a9a9"/>
<rect x="647.63" y="202.1" width="2.08" height="20.2" fill="#a5e07c"/>
<rect x="649.91" y="202.1" width="3.65" height="20.2" fill="#63c524"/>
<rect x="653.76" y="202.1" width="2.95" height="20.2" fill="#dda221"/>
<rect x="656.91" y="202.1" width="1.90" height="20.2" fill="#dda0dd"/>
<rect x="659.01" y="202.1" width="2.08" height="20.2" fill="#f8cf76"/>
<rect x="164.90" y="236.00" width="883.38" height="3.8" fill="#a2a2a2"/>
<rect x="164.90" y="227.8" width="1.90" height="20.2" fill="#a9a9a9"/>
<rect x="169.63" y="227.8" width="2.80" height="20.2" fill="#dda0dd"/>
<rect x="172.63" y="227.8" width="2.20" height="20.2" fill="#dda0dd"/>
<rect x="175.03" y="227.8" width="2.80" height="20.2" fill="#dda0dd"/>
<rect x="178.03" y="227.8" width="1.03" height="20.2" fill="#dda0dd"/>
<rect x="173.07" y="236.10" width="2.4" height="3.6" fill="#9c9c9c" fill-opacity="0.45"/>
<rect x="183.63" y="227.8" width="5.05" height="20.2" fill="#dda0dd"/>
<rect x="186.42" y="236.10" width="2.4" height="3.6" fill="#9c9c9c" fill-opacity="0.45"/>
<rect x="188.88" y="227.8" width="5.80" height="20.2" fill="#dda221"/>
<rect x="194.88" y="227.8" width="4.20" height="20.2" fill="#dda221"/>
<rect x="199.28" y="227.8" width="1.65" height="20.2" fill="#dda221"/>
<rect x="195.84" y="236.10" width="1.8" height="3.6" fill="#9c9c9c" fill-opacity="0.6"/>
<rect x="201.13" y="227.8" width="1.90" height="20.2" fill="#f8cf76"/>
<rect x="203.23" y="227.8" width="3.40" height="20.2" fill="#dda221"/>
<rect x="206.83" y="227.8" width="5.80" height="20.2" fill="#dda221"/>
<rect x="212.83" y="227.8" width="2.20" height="20.2" fill="#dda221"/>
<rect x="215.23" y="227.8" width="4.95" height="20.2" fill="#dda221"/>
<rect x="205.26" y="236.10" width="1.8" height="3.6" fill="#9c9c9c" fill-opacity="0.3"/>
<rect x="212.67" y="236.10" width="1.4" height="3.6" fill="#9c9c9c" fill-opacity="0.6"/>
<rect x="220.39" y="227.8" width="1.73" height="20.2" fill="#f8cf76"/>
<rect x="222.31" y="227.8" width="4.20" height="20.2" fill="#dda221"/>
<rect x="226.71" y="227.8" width="3.40" height="20.2" fill="#dda221"/>
<rect x="230.31" y="227.8" width="2.13" height="20.2" fill="#dda221"/>
<rect x="228.97" y="236.10" width="1.4" height="3.6" fill="#9c9c9c" fill-opacity="0.3"/>
<rect x="237.02" y="227.8" width="1.60" height="20.2" fill="#dda221"/>
<rect x="238.82" y="227.8" width="5.80" height="20.2" fill="#dda221"/>
<rect x="244.82" y="227.8" width="1.60" height="20.2" fill="#dda221"/>
<rect x="246.62" y="227.8" width="4.20" height="20.2" fill="#dda221"/>
<rect x="251.02" y="227.8" width="3.40" height="20.2" fill="#dda221"/>
<rect x="254.62" y="227.8" width="4.08" height="20.2" fill="#dda221"/>
<rect x="239.18" y="236.10" width="1.4" height="3.6" fill="#9c9c9c" fill-opacity="0.45"/>
<rect x="248.44" y="236.10" width="1.8" height="3.6" fill="#9c9c9c" fill-opacity="0.6"/>
<rect x="258.90" y="227.8" width="1.90" height="20.2" fill="#f8cf76"/>
<rect x="261.00" y="227.8" width="3.40" height="20.2" fill="#dda221"/>
<rect x="264.60" y="227.8" width="3.73" height="20.2" fill="#dda221"/>
<rect x="268.52" y="227.8" width="1.55" height="20.2" fill="#f8cf76"/>
<rect x="270.27" y="227.8" width="2.80" height="20.2" fill="#dda221"/>
<rect x="273.27" y="227.8" width="4.20" height="20.2" fill="#dda221"/>
<rect x="277.67" y="227.8" width="2.20" height="20.2" fill="#dda221"/>
<rect x="280.07" y="227.8" width="5.80" height="20.2" fill="#dda221"/>
<rect x="286.07" y="227.8" width="3.40" height="20.2" fill="#dda221"/>
<rect x="289.67" y="227.8" width="2.20" height="20.2" fill="#dda221"/>
<rect x="292.07" y="227.8" width="3.38" height="20.2" fill="#dda221"/>
<rect x="273.00" y="236.10" width="3.0" height="3.6" fill="#9c9c9c" fill-opacity="0.45"/>
<rect x="279.73" y="236.10" width="1.8" height="3.6" fill="#9c9c9c" fill-opacity="0.45"/>
<rect x="286.46" y="236.10" width="2.4" height="3.6" fill="#9c9c9c" fill-opacity="0.3"/>
<rect x="295.66" y="227.8" width="2.20" height="20.2" fill="#dda0dd"/>
<rect x="298.06" y="227.8" width="5.00" height="20.2" fill="#dda0dd"/>
<rect x="303.26" y="227.8" width="1.83" height="20.2" fill="#dda0dd"/>
<rect x="301.62" y="236.10" width="1.8" height="3.6" fill="#9c9c9c" fill-opacity="0.45"/>
<rect x="305.28" y="227.8" width="3.40" height="20.2" fill="#63c524"/>
<rect x="308.88" y="227.8" width="0.93" height="20.2" fill="#63c524"/>
<rect x="310.00" y="227.8" width="1.60" height="20.2" fill="#dda0dd"/>
<rect x="311.80" y="227.8" width="4.13" height="20.2" fill="#dda0dd"/>
<rect x="316.13" y="227.8" width="2.20" height="20.2" fill="#a9a9a9"/>
<rect x="318.53" y="227.8" width="0.90" height="20.2" fill="#a9a9a9"/>
<rect x="319.63" y="227.8" width="2.20" height="20.2" fill="#dda0dd"/>
<rect x="322.03" y="227.8" width="5.28" height="20.2" fill="#dda0dd"/>
<rect x="324.22" y="236.10" width="3.0" height="3.6" fill="#9c9c9c" fill-opacity="0.45"/>
<rect x="327.50" y="227.8" width="2.80" height="20.2" fill="#63c524"/>
<rect x="330.50" y="227.8" width="2.05" height="20.2" fill="#63c524"/>
<rect x="330.06" y="236.10" width="2.4" height="3.6" fill="#9c9c9c" fill-opacity="0.3"/>
<rect x="334.51" y="227.8" width="3.40" height="20.2" fill="#dda0dd"/>
<rect x="338.11" y="227.8" width="3.40" height="20.2" fill="#dda0dd"/>
<rect x="341.71" y="227.8" width="5.73" height="20.2" fill="#dda0dd"/>
<rect x="336.61" y="236.10" width="2.4" height="3.6" fill="#9c9c9c" fill-opacity="0.6"/>
<rect x="350.26" y="227.8" width="2.43" height="20.2" fill="#a9a9a9"/>
<rect x="352.88" y="227.8" width="1.55" height="20.2" fill="#dda0dd"/>
<rect x="354.64" y="227.8" width="2.43" height="20.2" fill="#60c5cf"/>
<rect x="357.26" y="227.8" width="1.60" height="20.2" fill="#dda0dd"/>
<rect x="359.06" y="227.8" width="1.60" height="20.2" fill="#dda0dd"/>
<rect x="360.86" y="227.8" width="3.20" height="20.2" fill="#dda0dd"/>
<rect x="360.89" y="236.10" width="1.8" height="3.6" fill="#9c9c9c" fill-opacity="0.45"/>
<rect x="364.26" y="227.8" width="3.30" height="20.2" fill="#a9a9a9"/>
<rect x="367.76" y="227.8" width="5.05" height="20.2" fill="#dda0dd"/>
<rect x="373.01" y="227.8" width="2.80" height="20.2" fill="#63c524"/>
<rect x="376.01" y="227.8" width="3.40" height="20.2" fill="#63c524"/>
<rect x="379.61" y="227.8" width="2.20" height="20.2" fill="#63c524"/>
<rect x="382.01" y="227.8" width="1.30" height="20.2" fill="#63c524"/>
<rect x="380.53" y="236.10" width="3.0" height="3.6" fill="#9c9c9c" fill-opacity="0.6"/>
<rect x="383.52" y="227.8" width="3.30" height="20.2" fill="#dda0dd"/>
<rect x="387.02" y="227.8" width="3.30" height="20.2" fill="#a9a9a9"/>
<rect x="390.52" y="227.8" width="1.60" height="20.2" fill="#a5e07c"/>
<rect x="392.32" y="227.8" width="3.25" height="20.2" fill="#a5e07c"/>
<rect x="395.77" y="227.8" width="4.18" height="20.2" fill="#dda0dd"/>
<rect x="400.15" y="227.8" width="2.80" height="20.2" fill="#63c524"/>
<rect x="403.15" y="227.8" width="1.60" height="20.2" fill="#63c524"/>
<rect x="404.95" y="227.8" width="1.13" height="20.2" fill="#63c524"/>
<rect x="409.77" y="227.8" width="1.60" height="20.2" fill="#dda0dd"/>
<rect x="411.57" y="227.8" width="1.50" height="20.2" fill="#dda0dd"/>
<rect x="413.27" y="227.8" width="3.40" height="20.2" fill="#63c524"/>
<rect x="416.87" y="227.8" width="1.60" height="20.2" fill="#63c524"/>
<rect x="418.67" y="227.8" width="2.80" height="20.2" fill="#63c524"/>
<rect x="421.67" y="227.8" width="4.20" height="20.2" fill="#63c524"/>
<rect x="426.07" y="227.8" width="3.40" height="20.2" fill="#63c524"/>
<rect x="429.67" y="227.8" width="2.80" height="20.2" fill="#63c524"/>
<rect x="432.67" y="227.8" width="4.20" height="20.2" fill="#63c524"/>
<rect x="437.07" y="227.8" width="2.20" height="20.2" fill="#63c524"/>
<rect x="439.47" y="227.8" width="1.60" height="20.2" fill="#63c524"/>
<rect x="441.27" y="227.8" width="4.20" height="20.2" fill="#63c524"/>
<rect x="445.67" y="227.8" width="4.16" height="20.2" fill="#63c524"/>
<rect x="416.70" y="236.10" width="1.4" height="3.6" fill="#9c9c9c" fill-opacity="0.3"/>
<rect x="425.32" y="236.10" width="1.8" height="3.6" fill="#9c9c9c" fill-opacity="0.3"/>
<rect x="440.65" y="236.10" width="2.4" height="3.6" fill="#9c9c9c" fill-opacity="0.6"/>
<rect x="450.03" y="227.8" width="2.43" height="20.2" fill="#a9a9a9"/>
<rect x="452.66" y="227.8" width="2.43" height="20.2" fill="#dda0dd"/>
<rect x="457.91" y="227.8" width="3.64" height="20.2" fill="#dda0dd"/>
<rect x="461.75" y="227.8" width="2.43" height="20.2" fill="#a9a9a9"/>
<rect x="464.38" y="227.8" width="1.60" height="20.2" fill="#dda0dd"/>
<rect x="466.18" y="227.8" width="5.00" height="20.2" fill="#dda0dd"/>
<rect x="471.38" y="227.8" width="3.83" height="20.2" fill="#dda0dd"/>
<rect x="469.68" y="236.10" width="1.8" height="3.6" fill="#9c9c9c" fill-opacity="0.6"/>
<rect x="475.40" y="227.8" width="3.40" height="20.2" fill="#dda221"/>
<rect x="479.00" y="227.8" width="0.93" height="20.2" fill="#dda221"/>
<rect x="480.13" y="227.8" width="5.58" height="20.2" fill="#dda0dd"/>
<rect x="485.91" y="227.8" width="3.40" height="20.2" fill="#dda221"/>
<rect x="489.51" y="227.8" width="2.68" height="20.2" fill="#dda221"/>
<rect x="492.38" y="227.8" width="3.30" height="20.2" fill="#dda0dd"/>
<rect x="495.88" y="227.8" width="1.55" height="20.2" fill="#63c524"/>
<rect x="497.63" y="227.8" width="2.20" height="20.2" fill="#dda221"/>
<rect x="500.03" y="227.8" width="0.90" height="20.2" fill="#dda221"/>
<rect x="501.13" y="227.8" width="5.00" height="20.2" fill="#dda0dd"/>
<rect x="506.33" y="227.8" width="1.08" height="20.2" fill="#dda0dd"/>
<rect x="507.61" y="227.8" width="4.35" height="20.2" fill="#dda221"/>
<rect x="512.16" y="227.8" width="1.90" height="20.2" fill="#dda0dd"/>
<rect x="514.26" y="227.8" width="1.60" height="20.2" fill="#a5e07c"/>
<rect x="516.06" y="227.8" width="1.60" height="20.2" fill="#a5e07c"/>
<rect x="517.86" y="227.8" width="4.95" height="20.2" fill="#a5e07c"/>
<rect x="520.71" y="236.10" width="2.4" height="3.6" fill="#9c9c9c" fill-opacity="0.45"/>
<rect x="523.01" y="227.8" width="2.43" height="20.2" fill="#dda0dd"/>
<rect x="527.39" y="227.8" width="3.40" height="20.2" fill="#a5e07c"/>
<rect x="530.99" y="227.8" width="6.70" height="20.2" fill="#a5e07c"/>
<rect x="532.43" y="236.10" width="2.4" height="3.6" fill="#9c9c9c" fill-opacity="0.6"/>
<rect x="537.89" y="227.8" width="3.30" height="20.2" fill="#dda0dd"/>
<rect x="541.39" y="227.8" width="2.20" height="20.2" fill="#a5e07c"/>
<rect x="543.79" y="227.8" width="2.20" height="20.2" fill="#a5e07c"/>
<rect x="546.19" y="227.8" width="2.80" height="20.2" fill="#a5e07c"/>
<rect x="549.19" y="227.8" width="3.40" height="20.2" fill="#a5e07c"/>
<rect x="552.79" y="227.8" width="1.60" height="20.2" fill="#a5e07c"/>
<rect x="554.59" y="227.8" width="3.23" height="20.2" fill="#a5e07c"/>
<rect x="545.58" y="236.10" width="2.4" height="3.6" fill="#9c9c9c" fill-opacity="0.6"/>
<rect x="554.81" y="236.10" width="1.4" height="3.6" fill="#9c9c9c" fill-opacity="0.45"/>
<rect x="558.02" y="227.8" width="2.20" height="20.2" fill="#dda0dd"/>
<rect x="560.42" y="227.8" width="1.60" height="20.2" fill="#dda0dd"/>
<rect x="562.22" y="227.8" width="0.85" height="20.2" fill="#dda0dd"/>
<rect x="563.27" y="227.8" width="4.18" height="20.2" fill="#a5e07c"/>
<rect x="567.65" y="227.8" width="1.55" height="20.2" fill="#a9a9a9"/>
<rect x="569.40" y="227.8" width="4.20" height="20.2" fill="#63c524"/>
<rect x="573.80" y="227.8" width="5.80" height="20.2" fill="#63c524"/>
<rect x="579.80" y="227.8" width="1.60" height="20.2" fill="#63c524"/>
<rect x="581.60" y="227.8" width="1.60" height="20.2" fill="#63c524"/>
<rect x="583.40" y="227.8" width="2.80" height="20.2" fill="#63c524"/>
<rect x="586.40" y="227.8" width="5.56" height="20.2" fill="#63c524"/>
<rect x="571.94" y="236.10" width="3.0" height="3.6" fill="#9c9c9c" fill-opacity="0.6"/>
<rect x="578.35" y="236.10" width="1.4" height="3.6" fill="#9c9c9c" fill-opacity="0.45"/>
<rect x="587.40" y="236.10" width="1.8" height="3.6" fill="#9c9c9c" fill-opacity="0.3"/>
<rect x="592.15" y="227.8" width="4.20" height="20.2" fill="#dda0dd"/>
<rect x="596.55" y="227.8" width="5.80" height="20.2" fill="#dda0dd"/>
<rect x="602.55" y="227.8" width="5.15" height="20.2" fill="#dda0dd"/>
<rect x="595.09" y="236.10" width="3.0" height="3.6" fill="#9c9c9c" fill-opacity="0.45"/>
<rect x="607.91" y="227.8" width="3.40" height="20.2" fill="#63c524"/>
<rect x="611.51" y="227.8" width="2.20" height="20.2" fill="#63c524"/>
<rect x="613.91" y="227.8" width="2.80" height="20.2" fill="#63c524"/>
<rect x="616.91" y="227.8" width="1.64" height="20.2" fill="#63c524"/>
<rect x="613.62" y="236.10" width="1.8" height="3.6" fill="#9c9c9c" fill-opacity="0.3"/>
<rect x="618.75" y="227.8" width="2.43" height="20.2" fill="#a9a9a9"/>
<rect x="621.38" y="227.8" width="5.00" height="20.2" fill="#a5e07c"/>
<rect x="626.58" y="227.8" width="2.48" height="20.2" fill="#a5e07c"/>
<rect x="629.25" y="227.8" width="2.43" height="20.2" fill="#a9a9a9"/>
<rect x="631.88" y="227.8" width="4.18" height="20.2" fill="#a5e07c"/>
<rect x="636.26" y="227.8" width="4.20" height="20.2" fill="#dda0dd"/>
<rect x="640.66" y="227.8" width="6.78" height="20.2" fill="#dda0dd"/>
<rect x="643.13" y="236.10" width="1.4" height="3.6" fill="#9c9c9c" fill-opacity="0.6"/>
<rect x="647.63" y="227.8" width="5.00" height="20.2" fill="#63c524"/>
<rect x="652.83" y="227.8" width="5.00" height="20.2" fill="#63c524"/>
<rect x="658.03" y="227.8" width="5.00" height="20.2" fill="#63c524"/>
<rect x="663.23" y="227.8" width="5.00" height="20.2" fill="#63c524"/>
<rect x="668.43" y="227.8" width="2.20" height="20.2" fill="#63c524"/>
<rect x="670.83" y="227.8" width="1.60" height="20.2" fill="#63c524"/>
<rect x="672.63" y="227.8" width="1.60" height="20.2" fill="#63c524"/>
<rect x="674.43" y="227.8" width="1.60" height="20.2" fill="#63c524"/>
<rect x="676.23" y="227.8" width="2.20" height="20.2" fill="#63c524"/>
<rect x="678.63" y="227.8" width="1.18" height="20.2" fill="#63c524"/>
<rect x="651.80" y="236.10" width="1.4" height="3.6" fill="#9c9c9c" fill-opacity="0.45"/>
<rect x="666.16" y="236.10" width="1.4" height="3.6" fill="#9c9c9c" fill-opacity="0.6"/>
<rect x="672.34" y="236.10" width="1.8" height="3.6" fill="#9c9c9c" fill-opacity="0.45"/>
<rect x="680.02" y="227.8" width="2.80" height="20.2" fill="#a9a9a9"/>
<rect x="683.02" y="227.8" width="1.18" height="20.2" fill="#a9a9a9"/>
<rect x="684.39" y="227.8" width="4.20" height="20.2" fill="#dda0dd"/>
<rect x="688.79" y="227.8" width="4.20" height="20.2" fill="#dda0dd"/>
<rect x="693.19" y="227.8" width="1.60" height="20.2" fill="#dda0dd"/>
<rect x="694.99" y="227.8" width="3.20" height="20.2" fill="#dda0dd"/>
<rect x="689.55" y="236.10" width="3.0" height="3.6" fill="#9c9c9c" fill-opacity="0.45"/>
<rect x="722.03" y="227.8" width="3.30" height="20.2" fill="#a9a9a9"/>
<rect x="725.53" y="227.8" width="5.00" height="20.2" fill="#dda0dd"/>
<rect x="730.73" y="227.8" width="5.80" height="20.2" fill="#dda0dd"/>
<rect x="736.73" y="227.8" width="2.20" height="20.2" fill="#dda0dd"/>
<rect x="739.13" y="227.8" width="2.20" height="20.2" fill="#dda0dd"/>
<rect x="741.53" y="227.8" width="5.00" height="20.2" fill="#dda0dd"/>
<rect x="746.73" y="227.8" width="3.11" height="20.2" fill="#dda0dd"/>
<rect x="733.38" y="236.10" width="3.0" height="3.6" fill="#9c9c9c" fill-opacity="0.45"/>
<rect x="740.15" y="236.10" width="2.4" height="3.6" fill="#9c9c9c" fill-opacity="0.3"/>
<rect x="750.03" y="227.8" width="2.43" height="20.2" fill="#a9a9a9"/>
<rect x="752.66" y="227.8" width="1.55" height="20.2" fill="#dda221"/>
<rect x="754.41" y="227.8" width="2.80" height="20.2" fill="#63c524"/>
<rect x="757.41" y="227.8" width="2.40" height="20.2" fill="#63c524"/>
<rect x="760.00" y="227.8" width="1.90" height="20.2" fill="#a9a9a9"/>
<rect x="762.10" y="227.8" width="2.20" height="20.2" fill="#60c5cf"/>
<rect x="764.50" y="227.8" width="1.95" height="20.2" fill="#60c5cf"/>
<rect x="770.50" y="227.8" width="3.40" height="20.2" fill="#dda0dd"/>
<rect x="774.10" y="227.8" width="2.80" height="20.2" fill="#dda0dd"/>
<rect x="777.10" y="227.8" width="5.00" height="20.2" fill="#dda0dd"/>
<rect x="782.30" y="227.8" width="1.60" height="20.2" fill="#dda0dd"/>
<rect x="784.10" y="227.8" width="5.00" height="20.2" fill="#dda0dd"/>
<rect x="789.30" y="227.8" width="2.20" height="20.2" fill="#dda0dd"/>
<rect x="791.70" y="227.8" width="1.36" height="20.2" fill="#dda0dd"/>
<rect x="775.44" y="236.10" width="2.4" height="3.6" fill="#9c9c9c" fill-opacity="0.45"/>
<rect x="786.10" y="236.10" width="1.4" height="3.6" fill="#9c9c9c" fill-opacity="0.6"/>
<rect x="793.26" y="227.8" width="1.60" height="20.2" fill="#63c524"/>
<rect x="795.06" y="227.8" width="3.40" height="20.2" fill="#63c524"/>
<rect x="798.66" y="227.8" width="1.40" height="20.2" fill="#63c524"/>
<rect x="797.00" y="236.10" width="1.4" height="3.6" fill="#9c9c9c" fill-opacity="0.6"/>
<rect x="800.26" y="227.8" width="1.55" height="20.2" fill="#a5e07c"/>
<rect x="802.01" y="227.8" width="1.55" height="20.2" fill="#a9a9a9"/>
<rect x="803.76" y="227.8" width="2.20" height="20.2" fill="#dda0dd"/>
<rect x="806.16" y="227.8" width="1.60" height="20.2" fill="#dda0dd"/>
<rect x="807.96" y="227.8" width="4.20" height="20.2" fill="#dda0dd"/>
<rect x="812.36" y="227.8" width="1.60" height="20.2" fill="#dda0dd"/>
<rect x="814.16" y="227.8" width="2.20" height="20.2" fill="#dda0dd"/>
<rect x="816.56" y="227.8" width="1.00" height="20.2" fill="#dda0dd"/>
<rect x="808.90" y="236.10" width="2.4" height="3.6" fill="#9c9c9c" fill-opacity="0.3"/>
<rect x="826.51" y="227.8" width="5.00" height="20.2" fill="#dda0dd"/>
<rect x="831.71" y="227.8" width="1.60" height="20.2" fill="#dda0dd"/>
<rect x="830.19" y="236.10" width="1.4" height="3.6" fill="#9c9c9c" fill-opacity="0.6"/>
<rect x="833.52" y="227.8" width="3.40" height="20.2" fill="#63c524"/>
<rect x="837.12" y="227.8" width="3.20" height="20.2" fill="#63c524"/>
<rect x="837.88" y="236.10" width="1.8" height="3.6" fill="#9c9c9c" fill-opacity="0.3"/>
<rect x="840.52" y="227.8" width="2.43" height="20.2" fill="#dda0dd"/>
<rect x="843.14" y="227.8" width="1.55" height="20.2" fill="#63c524"/>
<rect x="844.89" y="227.8" width="3.40" height="20.2" fill="#dda0dd"/>
<rect x="848.49" y="227.8" width="2.80" height="20.2" fill="#dda0dd"/>
<rect x="851.49" y="227.8" width="2.83" height="20.2" fill="#dda0dd"/>
<rect x="848.79" y="236.10" width="2.4" height="3.6" fill="#9c9c9c" fill-opacity="0.3"/>
<rect x="854.52" y="227.8" width="2.80" height="20.2" fill="#63c524"/>
<rect x="857.52" y="227.8" width="5.80" height="20.2" fill="#63c524"/>
<rect x="863.52" y="227.8" width="3.40" height="20.2" fill="#63c524"/>
<rect x="867.12" y="227.8" width="1.60" height="20.2" fill="#63c524"/>
<rect x="868.92" y="227.8" width="2.20" height="20.2" fill="#63c524"/>
<rect x="871.32" y="227.8" width="5.00" height="20.2" fill="#63c524"/>
<rect x="876.52" y="227.8" width="1.60" height="20.2" fill="#63c524"/>
<rect x="878.32" y="227.8" width="5.00" height="20.2" fill="#63c524"/>
<rect x="883.52" y="227.8" width="2.80" height="20.2" fill="#63c524"/>
<rect x="886.52" y="227.8" width="2.80" height="20.2" fill="#63c524"/>
<rect x="889.52" y="227.8" width="2.80" height="20.2" fill="#63c524"/>
<rect x="892.52" y="227.8" width="2.06" height="20.2" fill="#63c524"/>
<rect x="858.88" y="236.10" width="1.4" height="3.6" fill="#9c9c9c" fill-opacity="0.45"/>
<rect x="874.13" y="236.10" width="2.4" height="3.6" fill="#9c9c9c" fill-opacity="0.3"/>
<rect x="882.94" y="236.10" width="1.4" height="3.6" fill="#9c9c9c" fill-opacity="0.6"/>
<rect x="891.80" y="236.10" width="1.8" height="3.6" fill="#9c9c9c" fill-opacity="0.3"/>
<rect x="894.78" y="227.8" width="4.18" height="20.2" fill="#a5e07c"/>
<rect x="899.16" y="227.8" width="2.20" height="20.2" fill="#dda0dd"/>
<rect x="901.56" y="227.8" width="4.40" height="20.2" fill="#dda0dd"/>
<rect x="903.40" y="236.10" width="3.0" height="3.6" fill="#9c9c9c" fill-opacity="0.3"/>
<rect x="906.16" y="227.8" width="5.74" height="20.2" fill="#a5e07c"/>
<rect x="912.10" y="227.8" width="4.20" height="20.2" fill="#dda0dd"/>
<rect x="916.50" y="227.8" width="4.20" height="20.2" fill="#dda0dd"/>
<rect x="920.90" y="227.8" width="0.80" height="20.2" fill="#dda0dd"/>
<rect x="918.42" y="236.10" width="1.4" height="3.6" fill="#9c9c9c" fill-opacity="0.6"/>
<rect x="921.90" y="227.8" width="3.30" height="20.2" fill="#63c524"/>
<rect x="925.40" y="227.8" width="2.78" height="20.2" fill="#dda0dd"/>
<rect x="928.38" y="227.8" width="3.40" height="20.2" fill="#63c524"/>
<rect x="931.98" y="227.8" width="1.45" height="20.2" fill="#63c524"/>
<rect x="933.63" y="227.8" width="5.05" height="20.2" fill="#dda0dd"/>
<rect x="936.39" y="236.10" width="3.0" height="3.6" fill="#9c9c9c" fill-opacity="0.45"/>
<rect x="938.88" y="227.8" width="3.30" height="20.2" fill="#a9a9a9"/>
<rect x="942.38" y="227.8" width="5.00" height="20.2" fill="#63c524"/>
<rect x="947.58" y="227.8" width="4.23" height="20.2" fill="#63c524"/>
<rect x="945.94" y="236.10" width="1.8" height="3.6" fill="#9c9c9c" fill-opacity="0.45"/>
<rect x="952.01" y="227.8" width="5.00" height="20.2" fill="#dda0dd"/>
<rect x="957.21" y="227.8" width="3.40" height="20.2" fill="#dda0dd"/>
<rect x="960.81" y="227.8" width="1.60" height="20.2" fill="#dda0dd"/>
<rect x="962.61" y="227.8" width="2.20" height="20.2" fill="#dda0dd"/>
<rect x="965.01" y="227.8" width="4.65" height="20.2" fill="#dda0dd"/>
<rect x="954.98" y="236.10" width="1.8" height="3.6" fill="#9c9c9c" fill-opacity="0.6"/>
<rect x="971.26" y="227.8" width="3.40" height="20.2" fill="#dda0dd"/>
<rect x="974.86" y="227.8" width="4.95" height="20.2" fill="#dda0dd"/>
<rect x="974.58" y="236.10" width="2.4" height="3.6" fill="#9c9c9c" fill-opacity="0.45"/>
<rect x="980.02" y="227.8" width="4.20" height="20.2" fill="#a5e07c"/>
<rect x="984.42" y="227.8" width="2.20" height="20.2" fill="#a5e07c"/>
<rect x="986.82" y="227.8" width="1.75" height="20.2" fill="#a5e07c"/>
<rect x="982.56" y="236.10" width="2.4" height="3.6" fill="#9c9c9c" fill-opacity="0.6"/>
<rect x="988.77" y="227.8" width="2.43" height="20.2" fill="#a9a9a9"/>
<rect x="994.02" y="227.8" width="5.80" height="20.2" fill="#a5e07c"/>
<rect x="1000.02" y="227.8" width="5.18" height="20.2" fill="#a5e07c"/>
<rect x="997.23" y="236.10" width="1.4" height="3.6" fill="#9c9c9c" fill-opacity="0.6"/>
<rect x="1005.40" y="227.8" width="4.18" height="20.2" fill="#dda0dd"/>
<rect x="1009.77" y="227.8" width="3.30" height="20.2" fill="#63c524"/>
<rect x="1013.27" y="227.8" width="2.80" height="20.2" fill="#dda0dd"/>
<rect x="1016.27" y="227.8" width="2.05" height="20.2" fill="#dda0dd"/>
<rect x="1018.52" y="227.8" width="3.30" height="20.2" fill="#a9a9a9"/>
<rect x="1022.03" y="227.8" width="1.55" height="20.2" fill="#dda0dd"/>
<rect x="1023.78" y="227.8" width="2.80" height="20.2" fill="#a9a9a9"/>
<rect x="1026.78" y="227.8" width="2.93" height="20.2" fill="#a9a9a9"/>
<rect x="1029.90" y="227.8" width="5.80" height="20.2" fill="#dda0dd"/>
<rect x="1035.90" y="227.8" width="0.80" height="20.2" fill="#dda0dd"/>
<rect x="1033.20" y="236.10" width="2.4" height="3.6" fill="#9c9c9c" fill-opacity="0.3"/>
<rect x="1036.90" y="227.8" width="3.30" height="20.2" fill="#a9a9a9"/>
<rect x="1040.40" y="227.8" width="2.80" height="20.2" fill="#dda0dd"/>
<rect x="1043.40" y="227.8" width="4.68" height="20.2" fill="#dda0dd"/>
<rect x="164.90" y="261.80" width="676.49" height="3.8" fill="#a2a2a2"/>
<rect x="164.90" y="253.6" width="1.60" height="20.2" fill="#a9a9a9"/>
<rect x="166.70" y="253.6" width="0.98" height="20.2" fill="#a9a9a9"/>
<rect x="170.85" y="253.6" width="5.00" height="20.2" fill="#dda0dd"/>
<rect x="176.05" y="253.6" width="4.75" height="20.2" fill="#dda0dd"/>
<rect x="178.23" y="261.90" width="3.0" height="3.6" fill="#9c9c9c" fill-opacity="0.6"/>
<rect x="181.00" y="253.6" width="1.60" height="20.2" fill="#a5e07c"/>
<rect x="182.80" y="253.6" width="2.38" height="20.2" fill="#a5e07c"/>
<rect x="185.38" y="253.6" width="2.80" height="20.2" fill="#a9a9a9"/>
<rect x="188.38" y="253.6" width="2.80" height="20.2" fill="#a9a9a9"/>
<rect x="191.38" y="253.6" width="0.80" height="20.2" fill="#a9a9a9"/>
<rect x="190.19" y="261.90" width="3.0" height="3.6" fill="#9c9c9c" fill-opacity="0.3"/>
<rect x="192.38" y="253.6" width="2.20" height="20.2" fill="#dda221"/>
<rect x="194.78" y="253.6" width="2.20" height="20.2" fill="#dda221"/>
<rect x="197.18" y="253.6" width="2.20" height="20.2" fill="#dda221"/>
<rect x="199.58" y="253.6" width="4.85" height="20.2" fill="#dda221"/>
<rect x="200.21" y="261.90" width="1.4" height="3.6" fill="#9c9c9c" fill-opacity="0.6"/>
<rect x="204.64" y="253.6" width="1.55" height="20.2" fill="#f8cf76"/>
<rect x="206.39" y="253.6" width="3.40" height="20.2" fill="#dda221"/>
<rect x="209.99" y="253.6" width="1.60" height="20.2" fill="#dda221"/>
<rect x="211.79" y="253.6" width="4.20" height="20.2" fill="#dda221"/>
<rect x="216.19" y="253.6" width="5.80" height="20.2" fill="#dda221"/>
<rect x="222.19" y="253.6" width="1.60" height="20.2" fill="#dda221"/>
<rect x="223.99" y="253.6" width="1.60" height="20.2" fill="#dda221"/>
<rect x="225.79" y="253.6" width="5.80" height="20.2" fill="#dda221"/>
<rect x="231.79" y="253.6" width="2.20" height="20.2" fill="#dda221"/>
<rect x="234.19" y="253.6" width="2.20" height="20.2" fill="#dda221"/>
<rect x="236.59" y="253.6" width="3.73" height="20.2" fill="#dda221"/>
<rect x="213.90" y="261.90" width="2.4" height="3.6" fill="#9c9c9c" fill-opacity="0.3"/>
<rect x="226.17" y="261.90" width="3.0" height="3.6" fill="#9c9c9c" fill-opacity="0.6"/>
<rect x="240.52" y="253.6" width="1.60" height="20.2" fill="#dda0dd"/>
<rect x="242.32" y="253.6" width="1.60" height="20.2" fill="#dda0dd"/>
<rect x="244.12" y="253.6" width="2.80" height="20.2" fill="#dda0dd"/>
<rect x="247.12" y="253.6" width="4.20" height="20.2" fill="#dda0dd"/>
<rect x="251.52" y="253.6" width="4.20" height="20.2" fill="#dda0dd"/>
<rect x="255.92" y="253.6" width="2.20" height="20.2" fill="#dda0dd"/>
<rect x="258.32" y="253.6" width="3.40" height="20.2" fill="#dda0dd"/>
<rect x="261.92" y="253.6" width="2.80" height="20.2" fill="#dda0dd"/>
<rect x="264.92" y="253.6" width="2.20" height="20.2" fill="#dda0dd"/>
<rect x="267.32" y="253.6" width="1.88" height="20.2" fill="#dda0dd"/>
<rect x="246.12" y="261.90" width="1.4" height="3.6" fill="#9c9c9c" fill-opacity="0.6"/>
<rect x="255.14" y="261.90" width="3.0" height="3.6" fill="#9c9c9c" fill-opacity="0.45"/>
<rect x="269.40" y="253.6" width="5.00" height="20.2" fill="#dda221"/>
<rect x="274.60" y="253.6" width="5.80" height="20.2" fill="#dda221"/>
<rect x="280.60" y="253.6" width="2.20" height="20.2" fill="#dda221"/>
<rect x="283.00" y="253.6" width="3.40" height="20.2" fill="#dda221"/>
<rect x="286.60" y="253.6" width="4.20" height="20.2" fill="#dda221"/>
<rect x="291.00" y="253.6" width="2.20" height="20.2" fill="#dda221"/>
<rect x="293.40" y="253.6" width="4.20" height="20.2" fill="#dda221"/>
<rect x="297.80" y="253.6" width="2.20" height="20.2" fill="#dda221"/>
<rect x="300.20" y="253.6" width="1.60" height="20.2" fill="#dda221"/>
<rect x="302.00" y="253.6" width="3.40" height="20.2" fill="#dda221"/>
<rect x="305.60" y="253.6" width="5.00" height="20.2" fill="#dda221"/>
<rect x="310.80" y="253.6" width="2.50" height="20.2" fill="#dda221"/>
<rect x="273.24" y="261.90" width="1.4" height="3.6" fill="#9c9c9c" fill-opacity="0.3"/>
<rect x="284.23" y="261.90" width="3.0" height="3.6" fill="#9c9c9c" fill-opacity="0.3"/>
<rect x="292.80" y="261.90" width="3.0" height="3.6" fill="#9c9c9c" fill-opacity="0.45"/>
<rect x="301.07" y="261.90" width="1.4" height="3.6" fill="#9c9c9c" fill-opacity="0.6"/>
<rect x="310.45" y="261.90" width="3.0" height="3.6" fill="#9c9c9c" fill-opacity="0.45"/>
<rect x="313.50" y="253.6" width="2.43" height="20.2" fill="#f8cf76"/>
<rect x="316.13" y="253.6" width="2.80" height="20.2" fill="#dda0dd"/>
<rect x="319.13" y="253.6" width="5.00" height="20.2" fill="#dda0dd"/>
<rect x="324.33" y="253.6" width="5.80" height="20.2" fill="#dda0dd"/>
<rect x="330.33" y="253.6" width="1.35" height="20.2" fill="#dda0dd"/>
<rect x="318.53" y="261.90" width="3.0" height="3.6" fill="#9c9c9c" fill-opacity="0.3"/>
<rect x="327.65" y="261.90" width="1.8" height="3.6" fill="#9c9c9c" fill-opacity="0.3"/>
<rect x="331.88" y="253.6" width="2.80" height="20.2" fill="#dda221"/>
<rect x="334.88" y="253.6" width="5.55" height="20.2" fill="#dda221"/>
<rect x="340.63" y="253.6" width="1.55" height="20.2" fill="#f8cf76"/>
<rect x="342.38" y="253.6" width="3.40" height="20.2" fill="#dda221"/>
<rect x="345.98" y="253.6" width="4.20" height="20.2" fill="#dda221"/>
<rect x="350.38" y="253.6" width="2.30" height="20.2" fill="#dda221"/>
<rect x="349.76" y="261.90" width="3.0" height="3.6" fill="#9c9c9c" fill-opacity="0.45"/>
<rect x="352.88" y="253.6" width="1.60" height="20.2" fill="#dda0dd"/>
<rect x="354.68" y="253.6" width="4.20" height="20.2" fill="#dda0dd"/>
<rect x="359.08" y="253.6" width="2.20" height="20.2" fill="#dda0dd"/>
<rect x="361.48" y="253.6" width="3.40" height="20.2" fill="#dda0dd"/>
<rect x="365.08" y="253.6" width="1.60" height="20.2" fill="#dda0dd"/>
<rect x="366.88" y="253.6" width="2.20" height="20.2" fill="#dda0dd"/>
<rect x="369.28" y="253.6" width="1.60" height="20.2" fill="#dda0dd"/>
<rect x="371.08" y="253.6" width="4.20" height="20.2" fill="#dda0dd"/>
<rect x="375.48" y="253.6" width="2.20" height="20.2" fill="#dda0dd"/>
<rect x="377.88" y="253.6" width="3.40" height="20.2" fill="#dda0dd"/>
<rect x="381.48" y="253.6" width="1.60" height="20.2" fill="#dda0dd"/>
<rect x="383.28" y="253.6" width="5.00" height="20.2" fill="#dda0dd"/>
<rect x="388.48" y="253.6" width="1.83" height="20.2" fill="#dda0dd"/>
<rect x="355.99" y="261.90" width="3.0" height="3.6" fill="#9c9c9c" fill-opacity="0.6"/>
<rect x="370.83" y="261.90" width="1.4" height="3.6" fill="#9c9c9c" fill-opacity="0.3"/>
<rect x="386.14" y="261.90" width="2.4" height="3.6" fill="#9c9c9c" fill-opacity="0.3"/>
<rect x="396.64" y="253.6" width="1.90" height="20.2" fill="#a9a9a9"/>
<rect x="398.74" y="253.6" width="1.60" height="20.2" fill="#dda0dd"/>
<rect x="400.54" y="253.6" width="2.80" height="20.2" fill="#dda0dd"/>
<rect x="403.54" y="253.6" width="4.28" height="20.2" fill="#dda0dd"/>
<rect x="405.10" y="261.90" width="2.4" height="3.6" fill="#9c9c9c" fill-opacity="0.45"/>
<rect x="408.02" y="253.6" width="1.90" height="20.2" fill="#63c524"/>
<rect x="410.12" y="253.6" width="2.80" height="20.2" fill="#dda0dd"/>
<rect x="413.12" y="253.6" width="1.60" height="20.2" fill="#dda0dd"/>
<rect x="414.92" y="253.6" width="2.80" height="20.2" fill="#dda0dd"/>
<rect x="417.92" y="253.6" width="1.28" height="20.2" fill="#dda0dd"/>
<rect x="419.40" y="253.6" width="1.60" height="20.2" fill="#dda221"/>
<rect x="421.20" y="253.6" width="4.20" height="20.2" fill="#dda221"/>
<rect x="425.60" y="253.6" width="5.80" height="20.2" fill="#dda221"/>
<rect x="431.60" y="253.6" width="2.20" height="20.2" fill="#dda221"/>
<rect x="434.00" y="253.6" width="3.40" height="20.2" fill="#dda221"/>
<rect x="437.60" y="253.6" width="2.80" height="20.2" fill="#dda221"/>
<rect x="440.60" y="253.6" width="3.11" height="20.2" fill="#dda221"/>
<rect x="426.33" y="261.90" width="3.0" height="3.6" fill="#9c9c9c" fill-opacity="0.3"/>
<rect x="432.82" y="261.90" width="3.0" height="3.6" fill="#9c9c9c" fill-opacity="0.3"/>
<rect x="443.91" y="253.6" width="3.30" height="20.2" fill="#60c5cf"/>
<rect x="447.41" y="253.6" width="2.80" height="20.2" fill="#dda221"/>
<rect x="450.41" y="253.6" width="4.68" height="20.2" fill="#dda221"/>
<rect x="455.28" y="253.6" width="1.60" height="20.2" fill="#dda0dd"/>
<rect x="457.08" y="253.6" width="5.00" height="20.2" fill="#dda0dd"/>
<rect x="462.28" y="253.6" width="3.40" height="20.2" fill="#dda0dd"/>
<rect x="465.88" y="253.6" width="2.20" height="20.2" fill="#dda0dd"/>
<rect x="468.28" y="253.6" width="5.80" height="20.2" fill="#dda0dd"/>
<rect x="474.28" y="253.6" width="2.67" height="20.2" fill="#dda0dd"/>
<rect x="461.88" y="261.90" width="1.4" height="3.6" fill="#9c9c9c" fill-opacity="0.45"/>
<rect x="468.23" y="261.90" width="1.4" height="3.6" fill="#9c9c9c" fill-opacity="0.3"/>
<rect x="478.20" y="253.6" width="5.00" height="20.2" fill="#dda0dd"/>
<rect x="483.40" y="253.6" width="1.60" height="20.2" fill="#dda0dd"/>
<rect x="485.20" y="253.6" width="2.25" height="20.2" fill="#dda0dd"/>
<rect x="482.24" y="261.90" width="2.4" height="3.6" fill="#9c9c9c" fill-opacity="0.45"/>
<rect x="488.71" y="253.6" width="4.20" height="20.2" fill="#dda0dd"/>
<rect x="493.11" y="253.6" width="1.60" height="20.2" fill="#dda0dd"/>
<rect x="494.91" y="253.6" width="2.80" height="20.2" fill="#dda0dd"/>
<rect x="497.91" y="253.6" width="1.80" height="20.2" fill="#dda0dd"/>
<rect x="495.01" y="261.90" width="2.4" height="3.6" fill="#9c9c9c" fill-opacity="0.45"/>
<rect x="500.96" y="253.6" width="5.00" height="20.2" fill="#dda0dd"/>
<rect x="506.16" y="253.6" width="5.45" height="20.2" fill="#dda0dd"/>
<rect x="506.53" y="261.90" width="1.4" height="3.6" fill="#9c9c9c" fill-opacity="0.3"/>
<rect x="513.56" y="253.6" width="1.60" height="20.2" fill="#dda0dd"/>
<rect x="515.36" y="253.6" width="3.40" height="20.2" fill="#dda0dd"/>
<rect x="518.96" y="253.6" width="5.00" height="20.2" fill="#dda0dd"/>
<rect x="524.16" y="253.6" width="3.40" height="20.2" fill="#dda0dd"/>
<rect x="527.76" y="253.6" width="5.80" height="20.2" fill="#dda0dd"/>
<rect x="533.76" y="253.6" width="3.40" height="20.2" fill="#dda0dd"/>
<rect x="537.36" y="253.6" width="5.80" height="20.2" fill="#dda0dd"/>
<rect x="543.36" y="253.6" width="1.86" height="20.2" fill="#dda0dd"/>
<rect x="521.04" y="261.90" width="3.0" height="3.6" fill="#9c9c9c" fill-opacity="0.3"/>
<rect x="536.32" y="261.90" width="1.8" height="3.6" fill="#9c9c9c" fill-opacity="0.3"/>
<rect x="546.47" y="253.6" width="5.00" height="20.2" fill="#dda0dd"/>
<rect x="551.67" y="253.6" width="2.80" height="20.2" fill="#dda0dd"/>
<rect x="554.67" y="253.6" width="5.25" height="20.2" fill="#dda0dd"/>
<rect x="552.62" y="261.90" width="1.8" height="3.6" fill="#9c9c9c" fill-opacity="0.6"/>
<rect x="561.17" y="253.6" width="5.80" height="20.2" fill="#dda0dd"/>
<rect x="567.17" y="253.6" width="2.80" height="20.2" fill="#dda0dd"/>
<rect x="570.17" y="253.6" width="3.40" height="20.2" fill="#dda0dd"/>
<rect x="573.77" y="253.6" width="2.80" height="20.2" fill="#dda0dd"/>
<rect x="576.77" y="253.6" width="5.80" height="20.2" fill="#dda0dd"/>
<rect x="582.77" y="253.6" width="5.80" height="20.2" fill="#dda0dd"/>
<rect x="588.77" y="253.6" width="4.20" height="20.2" fill="#dda0dd"/>
<rect x="593.17" y="253.6" width="1.60" height="20.2" fill="#dda0dd"/>
<rect x="594.97" y="253.6" width="4.20" height="20.2" fill="#dda0dd"/>
<rect x="599.37" y="253.6" width="2.20" height="20.2" fill="#dda0dd"/>
<rect x="601.77" y="253.6" width="3.40" height="20.2" fill="#dda0dd"/>
<rect x="605.37" y="253.6" width="5.80" height="20.2" fill="#dda0dd"/>
<rect x="611.37" y="253.6" width="2.20" height="20.2" fill="#dda0dd"/>
<rect x="613.77" y="253.6" width="2.20" height="20.2" fill="#dda0dd"/>
<rect x="616.17" y="253.6" width="3.40" height="20.2" fill="#dda0dd"/>
<rect x="619.77" y="253.6" width="1.60" height="20.2" fill="#dda0dd"/>
<rect x="621.57" y="253.6" width="5.00" height="20.2" fill="#dda0dd"/>
<rect x="626.77" y="253.6" width="1.60" height="20.2" fill="#dda0dd"/>
<rect x="628.57" y="253.6" width="3.40" height="20.2" fill="#dda0dd"/>
<rect x="632.17" y="253.6" width="4.20" height="20.2" fill="#dda0dd"/>
<rect x="636.57" y="253.6" width="4.20" height="20.2" fill="#dda0dd"/>
<rect x="640.97" y="253.6" width="2.96" height="20.2" fill="#dda0dd"/>
<rect x="564.14" y="261.90" width="3.0" height="3.6" fill="#9c9c9c" fill-opacity="0.3"/>
<rect x="580.02" y="261.90" width="2.4" height="3.6" fill="#9c9c9c" fill-opacity="0.6"/>
<rect x="586.86" y="261.90" width="1.4" height="3.6" fill="#9c9c9c" fill-opacity="0.45"/>
<rect x="597.84" y="261.90" width="3.0" height="3.6" fill="#9c9c9c" fill-opacity="0.3"/>
<rect x="606.18" y="261.90" width="3.0" height="3.6" fill="#9c9c9c" fill-opacity="0.45"/>
<rect x="618.39" y="261.90" width="1.8" height="3.6" fill="#9c9c9c" fill-opacity="0.6"/>
<rect x="629.77" y="261.90" width="1.4" height="3.6" fill="#9c9c9c" fill-opacity="0.45"/>
<rect x="638.71" y="261.90" width="2.4" height="3.6" fill="#9c9c9c" fill-opacity="0.45"/>
<rect x="644.13" y="253.6" width="2.80" height="20.2" fill="#63c524"/>
<rect x="647.13" y="253.6" width="2.20" height="20.2" fill="#63c524"/>
<rect x="649.53" y="253.6" width="3.40" height="20.2" fill="#63c524"/>
<rect x="653.13" y="253.6" width="2.20" height="20.2" fill="#63c524"/>
<rect x="655.53" y="253.6" width="2.20" height="20.2" fill="#63c524"/>
<rect x="657.93" y="253.6" width="2.20" height="20.2" fill="#63c524"/>
<rect x="660.33" y="253.6" width="2.20" height="20.2" fill="#63c524"/>
<rect x="662.73" y="253.6" width="2.20" height="20.2" fill="#63c524"/>
<rect x="665.13" y="253.6" width="2.43" height="20.2" fill="#63c524"/>
<rect x="651.44" y="261.90" width="1.8" height="3.6" fill="#9c9c9c" fill-opacity="0.45"/>
<rect x="658.09" y="261.90" width="2.4" height="3.6" fill="#9c9c9c" fill-opacity="0.3"/>
<rect x="667.76" y="253.6" width="2.20" height="20.2" fill="#dda0dd"/>
<rect x="670.16" y="253.6" width="5.00" height="20.2" fill="#dda0dd"/>
<rect x="675.36" y="253.6" width="5.80" height="20.2" fill="#dda0dd"/>
<rect x="681.36" y="253.6" width="1.60" height="20.2" fill="#dda0dd"/>
<rect x="683.16" y="253.6" width="5.00" height="20.2" fill="#dda0dd"/>
<rect x="688.36" y="253.6" width="2.31" height="20.2" fill="#dda0dd"/>
<rect x="675.71" y="261.90" width="1.4" height="3.6" fill="#9c9c9c" fill-opacity="0.3"/>
<rect x="686.46" y="261.90" width="1.8" height="3.6" fill="#9c9c9c" fill-opacity="0.45"/>
<rect x="692.27" y="253.6" width="1.60" height="20.2" fill="#dda0dd"/>
<rect x="694.07" y="253.6" width="2.80" height="20.2" fill="#dda0dd"/>
<rect x="697.07" y="253.6" width="2.20" height="20.2" fill="#dda0dd"/>
<rect x="699.47" y="253.6" width="2.58" height="20.2" fill="#dda0dd"/>
<rect x="694.57" y="261.90" width="1.8" height="3.6" fill="#9c9c9c" fill-opacity="0.3"/>
<rect x="703.65" y="253.6" width="5.80" height="20.2" fill="#dda0dd"/>
<rect x="709.65" y="253.6" width="2.20" height="20.2" fill="#dda0dd"/>
<rect x="712.05" y="253.6" width="4.00" height="20.2" fill="#dda0dd"/>
<rect x="709.26" y="261.90" width="1.4" height="3.6" fill="#9c9c9c" fill-opacity="0.3"/>
<rect x="717.65" y="253.6" width="5.00" height="20.2" fill="#dda0dd"/>
<rect x="722.85" y="253.6" width="4.20" height="20.2" fill="#dda0dd"/>
<rect x="727.25" y="253.6" width="2.80" height="20.2" fill="#dda0dd"/>
<rect x="730.25" y="253.6" width="2.20" height="20.2" fill="#dda0dd"/>
<rect x="732.65" y="253.6" width="1.60" height="20.2" fill="#dda0dd"/>
<rect x="734.45" y="253.6" width="2.25" height="20.2" fill="#dda0dd"/>
<rect x="721.69" y="261.90" width="1.4" height="3.6" fill="#9c9c9c" fill-opacity="0.3"/>
<rect x="738.65" y="253.6" width="1.60" height="20.2" fill="#dda0dd"/>
<rect x="740.45" y="253.6" width="1.50" height="20.2" fill="#dda0dd"/>
<rect x="742.15" y="253.6" width="2.20" height="20.2" fill="#a5e07c"/>
<rect x="744.55" y="253.6" width="5.80" height="20.2" fill="#a5e07c"/>
<rect x="750.55" y="253.6" width="1.60" height="20.2" fill="#a5e07c"/>
<rect x="752.35" y="253.6" width="3.60" height="20.2" fill="#a5e07c"/>
<rect x="746.12" y="261.90" width="2.4" height="3.6" fill="#9c9c9c" fill-opacity="0.3"/>
<rect x="763.50" y="253.6" width="1.55" height="20.2" fill="#a9a9a9"/>
<rect x="765.25" y="253.6" width="5.80" height="20.2" fill="#dda0dd"/>
<rect x="771.25" y="253.6" width="3.40" height="20.2" fill="#dda0dd"/>
<rect x="774.85" y="253.6" width="4.20" height="20.2" fill="#dda0dd"/>
<rect x="779.25" y="253.6" width="3.40" height="20.2" fill="#dda0dd"/>
<rect x="782.85" y="253.6" width="1.60" height="20.2" fill="#dda0dd"/>
<rect x="784.65" y="253.6" width="3.40" height="20.2" fill="#dda0dd"/>
<rect x="788.25" y="253.6" width="1.60" height="20.2" fill="#dda0dd"/>
<rect x="790.05" y="253.6" width="6.51" height="20.2" fill="#dda0dd"/>
<rect x="769.62" y="261.90" width="1.8" height="3.6" fill="#9c9c9c" fill-opacity="0.6"/>
<rect x="780.96" y="261.90" width="1.8" height="3.6" fill="#9c9c9c" fill-opacity="0.45"/>
<rect x="793.92" y="261.90" width="3.0" height="3.6" fill="#9c9c9c" fill-opacity="0.45"/>
<rect x="801.13" y="253.6" width="3.40" height="20.2" fill="#dda0dd"/>
<rect x="804.73" y="253.6" width="1.98" height="20.2" fill="#dda0dd"/>
<rect x="808.31" y="253.6" width="4.20" height="20.2" fill="#dda0dd"/>
<rect x="812.71" y="253.6" width="1.35" height="20.2" fill="#dda0dd"/>
<rect x="814.26" y="253.6" width="1.60" height="20.2" fill="#63c524"/>
<rect x="816.06" y="253.6" width="5.80" height="20.2" fill="#63c524"/>
<rect x="822.06" y="253.6" width="3.38" height="20.2" fill="#63c524"/>
<rect x="822.24" y="261.90" width="2.4" height="3.6" fill="#9c9c9c" fill-opacity="0.6"/>
<rect x="825.64" y="253.6" width="2.43" height="20.2" fill="#60c5cf"/>
<rect x="828.27" y="253.6" width="1.60" height="20.2" fill="#dda0dd"/>
<rect x="830.07" y="253.6" width="3.40" height="20.2" fill="#dda0dd"/>
<rect x="833.67" y="253.6" width="2.20" height="20.2" fill="#dda0dd"/>
<rect x="836.07" y="253.6" width="3.40" height="20.2" fill="#dda0dd"/>
<rect x="839.67" y="253.6" width="1.53" height="20.2" fill="#dda0dd"/>
<rect x="835.19" y="261.90" width="3.0" height="3.6" fill="#9c9c9c" fill-opacity="0.6"/>
<rect x="164.90" y="287.60" width="597.20" height="3.8" fill="#a2a2a2"/>
<rect x="164.90" y="279.4" width="3.65" height="20.2" fill="#dda221"/>
<rect x="168.75" y="279.4" width="2.20" height="20.2" fill="#f8cf76"/>
<rect x="171.15" y="279.4" width="2.30" height="20.2" fill="#f8cf76"/>
<rect x="171.06" y="287.70" width="1.8" height="3.6" fill="#9c9c9c" fill-opacity="0.6"/>
<rect x="173.65" y="279.4" width="3.40" height="20.2" fill="#dda0dd"/>
<rect x="177.25" y="279.4" width="1.60" height="20.2" fill="#dda0dd"/>
<rect x="179.05" y="279.4" width="1.40" height="20.2" fill="#dda0dd"/>
<rect x="180.65" y="279.4" width="2.80" height="20.2" fill="#dda221"/>
<rect x="183.65" y="279.4" width="2.40" height="20.2" fill="#dda221"/>
<rect x="186.26" y="279.4" width="2.20" height="20.2" fill="#dda0dd"/>
<rect x="188.66" y="279.4" width="2.80" height="20.2" fill="#dda0dd"/>
<rect x="191.66" y="279.4" width="2.80" height="20.2" fill="#dda0dd"/>
<rect x="194.66" y="279.4" width="2.20" height="20.2" fill="#dda0dd"/>
<rect x="197.06" y="279.4" width="4.20" height="20.2" fill="#dda0dd"/>
<rect x="201.46" y="279.4" width="2.20" height="20.2" fill="#dda0dd"/>
<rect x="203.86" y="279.4" width="1.60" height="20.2" fill="#dda0dd"/>
<rect x="205.66" y="279.4" width="1.60" height="20.2" fill="#dda0dd"/>
<rect x="207.46" y="279.4" width="3.40" height="20.2" fill="#dda0dd"/>
<rect x="211.06" y="279.4" width="3.40" height="20.2" fill="#dda0dd"/>
<rect x="214.66" y="279.4" width="5.80" height="20.2" fill="#dda0dd"/>
<rect x="220.66" y="279.4" width="5.80" height="20.2" fill="#dda0dd"/>
<rect x="226.66" y="279.4" width="1.41" height="20.2" fill="#dda0dd"/>
<rect x="194.06" y="287.70" width="1.8" height="3.6" fill="#9c9c9c" fill-opacity="0.45"/>
<rect x="201.32" y="287.70" width="1.4" height="3.6" fill="#9c9c9c" fill-opacity="0.45"/>
<rect x="210.47" y="287.70" width="3.0" height="3.6" fill="#9c9c9c" fill-opacity="0.3"/>
<rect x="225.51" y="287.70" width="1.8" height="3.6" fill="#9c9c9c" fill-opacity="0.6"/>
<rect x="228.27" y="279.4" width="2.20" height="20.2" fill="#a9a9a9"/>
<rect x="230.67" y="279.4" width="0.90" height="20.2" fill="#a9a9a9"/>
<rect x="231.77" y="279.4" width="3.30" height="20.2" fill="#63c524"/>
<rect x="235.27" y="279.4" width="3.30" height="20.2" fill="#a5e07c"/>
<rect x="238.77" y="279.4" width="2.20" height="20.2" fill="#63c524"/>
<rect x="241.17" y="279.4" width="0.90" height="20.2" fill="#63c524"/>
<rect x="242.27" y="279.4" width="3.30" height="20.2" fill="#dda0dd"/>
<rect x="245.77" y="279.4" width="3.30" height="20.2" fill="#63c524"/>
<rect x="249.27" y="279.4" width="2.20" height="20.2" fill="#dda0dd"/>
<rect x="251.67" y="279.4" width="2.65" height="20.2" fill="#dda0dd"/>
<rect x="254.52" y="279.4" width="2.43" height="20.2" fill="#63c524"/>
<rect x="257.15" y="279.4" width="2.43" height="20.2" fill="#dda0dd"/>
<rect x="259.77" y="279.4" width="5.00" height="20.2" fill="#63c524"/>
<rect x="264.97" y="279.4" width="1.60" height="20.2" fill="#63c524"/>
<rect x="266.77" y="279.4" width="1.90" height="20.2" fill="#63c524"/>
<rect x="266.80" y="287.70" width="1.4" height="3.6" fill="#9c9c9c" fill-opacity="0.45"/>
<rect x="268.87" y="279.4" width="3.83" height="20.2" fill="#dda0dd"/>
<rect x="272.90" y="279.4" width="5.80" height="20.2" fill="#dda221"/>
<rect x="278.90" y="279.4" width="2.80" height="20.2" fill="#dda221"/>
<rect x="281.90" y="279.4" width="5.00" height="20.2" fill="#dda221"/>
<rect x="287.10" y="279.4" width="3.40" height="20.2" fill="#dda221"/>
<rect x="290.70" y="279.4" width="2.80" height="20.2" fill="#dda221"/>
<rect x="293.70" y="279.4" width="4.20" height="20.2" fill="#dda221"/>
<rect x="298.10" y="279.4" width="2.20" height="20.2" fill="#dda221"/>
<rect x="300.50" y="279.4" width="3.40" height="20.2" fill="#dda221"/>
<rect x="304.10" y="279.4" width="3.40" height="20.2" fill="#dda221"/>
<rect x="307.70" y="279.4" width="5.00" height="20.2" fill="#dda221"/>
<rect x="312.90" y="279.4" width="2.80" height="20.2" fill="#dda221"/>
<rect x="315.90" y="279.4" width="3.40" height="20.2" fill="#dda221"/>
<rect x="319.50" y="279.4" width="4.20" height="20.2" fill="#dda221"/>
<rect x="323.90" y="279.4" width="2.53" height="20.2" fill="#dda221"/>
<rect x="275.97" y="287.70" width="1.4" height="3.6" fill="#9c9c9c" fill-opacity="0.6"/>
<rect x="291.83" y="287.70" width="3.0" height="3.6" fill="#9c9c9c" fill-opacity="0.3"/>
<rect x="302.30" y="287.70" width="3.0" height="3.6" fill="#9c9c9c" fill-opacity="0.3"/>
<rect x="316.41" y="287.70" width="3.0" height="3.6" fill="#9c9c9c" fill-opacity="0.3"/>
<rect x="323.08" y="287.70" width="2.4" height="3.6" fill="#9c9c9c" fill-opacity="0.45"/>
<rect x="326.63" y="279.4" width="3.30" height="20.2" fill="#dda0dd"/>
<rect x="330.13" y="279.4" width="4.20" height="20.2" fill="#a5e07c"/>
<rect x="334.53" y="279.4" width="5.00" height="20.2" fill="#a5e07c"/>
<rect x="339.73" y="279.4" width="2.45" height="20.2" fill="#a5e07c"/>
<rect x="332.37" y="287.70" width="1.8" height="3.6" fill="#9c9c9c" fill-opacity="0.3"/>
<rect x="342.38" y="279.4" width="1.55" height="20.2" fill="#a9a9a9"/>
<rect x="344.13" y="279.4" width="1.55" height="20.2" fill="#63c524"/>
<rect x="345.88" y="279.4" width="4.18" height="20.2" fill="#dda0dd"/>
<rect x="352.01" y="279.4" width="3.30" height="20.2" fill="#dda0dd"/>
<rect x="355.51" y="279.4" width="2.43" height="20.2" fill="#63c524"/>
<rect x="358.14" y="279.4" width="5.80" height="20.2" fill="#a5e07c"/>
<rect x="364.14" y="279.4" width="1.68" height="20.2" fill="#a5e07c"/>
<rect x="366.01" y="279.4" width="1.90" height="20.2" fill="#dda0dd"/>
<rect x="368.11" y="279.4" width="1.60" height="20.2" fill="#63c524"/>
<rect x="369.91" y="279.4" width="2.20" height="20.2" fill="#63c524"/>
<rect x="372.31" y="279.4" width="2.20" height="20.2" fill="#63c524"/>
<rect x="374.71" y="279.4" width="3.40" height="20.2" fill="#63c524"/>
<rect x="378.31" y="279.4" width="2.80" height="20.2" fill="#63c524"/>
<rect x="381.31" y="279.4" width="5.80" height="20.2" fill="#63c524"/>
<rect x="387.31" y="279.4" width="3.88" height="20.2" fill="#63c524"/>
<rect x="371.10" y="287.70" width="1.8" height="3.6" fill="#9c9c9c" fill-opacity="0.3"/>
<rect x="385.43" y="287.70" width="2.4" height="3.6" fill="#9c9c9c" fill-opacity="0.3"/>
<rect x="391.39" y="279.4" width="2.43" height="20.2" fill="#a5e07c"/>
<rect x="394.02" y="279.4" width="4.18" height="20.2" fill="#63c524"/>
<rect x="398.39" y="279.4" width="2.80" height="20.2" fill="#dda0dd"/>
<rect x="401.39" y="279.4" width="2.93" height="20.2" fill="#dda0dd"/>
<rect x="404.52" y="279.4" width="3.30" height="20.2" fill="#63c524"/>
<rect x="408.02" y="279.4" width="2.43" height="20.2" fill="#dda0dd"/>
<rect x="412.40" y="279.4" width="2.20" height="20.2" fill="#a5e07c"/>
<rect x="414.80" y="279.4" width="2.80" height="20.2" fill="#a5e07c"/>
<rect x="417.80" y="279.4" width="2.80" height="20.2" fill="#a5e07c"/>
<rect x="420.80" y="279.4" width="1.60" height="20.2" fill="#a5e07c"/>
<rect x="422.60" y="279.4" width="2.20" height="20.2" fill="#a5e07c"/>
<rect x="425.00" y="279.4" width="2.20" height="20.2" fill="#a5e07c"/>
<rect x="427.40" y="279.4" width="3.40" height="20.2" fill="#a5e07c"/>
<rect x="431.00" y="279.4" width="1.33" height="20.2" fill="#a5e07c"/>
<rect x="418.22" y="287.70" width="2.4" height="3.6" fill="#9c9c9c" fill-opacity="0.6"/>
<rect x="427.50" y="287.70" width="3.0" height="3.6" fill="#9c9c9c" fill-opacity="0.3"/>
<rect x="432.53" y="279.4" width="1.55" height="20.2" fill="#63c524"/>
<rect x="434.28" y="279.4" width="1.55" height="20.2" fill="#a9a9a9"/>
<rect x="436.03" y="279.4" width="5.80" height="20.2" fill="#a5e07c"/>
<rect x="442.03" y="279.4" width="2.80" height="20.2" fill="#a5e07c"/>
<rect x="445.03" y="279.4" width="1.30" height="20.2" fill="#a5e07c"/>
<rect x="440.75" y="287.70" width="1.4" height="3.6" fill="#9c9c9c" fill-opacity="0.45"/>
<rect x="446.53" y="279.4" width="5.93" height="20.2" fill="#dda0dd"/>
<rect x="452.66" y="279.4" width="3.30" height="20.2" fill="#a9a9a9"/>
<rect x="456.16" y="279.4" width="3.65" height="20.2" fill="#dda0dd"/>
<rect x="460.00" y="279.4" width="1.55" height="20.2" fill="#a9a9a9"/>
<rect x="461.75" y="279.4" width="2.80" height="20.2" fill="#dda0dd"/>
<rect x="464.75" y="279.4" width="2.80" height="20.2" fill="#dda0dd"/>
<rect x="467.75" y="279.4" width="5.80" height="20.2" fill="#dda0dd"/>
<rect x="473.75" y="279.4" width="1.60" height="20.2" fill="#dda0dd"/>
<rect x="475.55" y="279.4" width="3.50" height="20.2" fill="#dda0dd"/>
<rect x="465.13" y="287.70" width="1.4" height="3.6" fill="#9c9c9c" fill-opacity="0.45"/>
<rect x="482.41" y="279.4" width="3.65" height="20.2" fill="#63c524"/>
<rect x="486.26" y="279.4" width="1.55" height="20.2" fill="#dda0dd"/>
<rect x="488.01" y="279.4" width="5.93" height="20.2" fill="#63c524"/>
<rect x="494.13" y="279.4" width="3.30" height="20.2" fill="#dda0dd"/>
<rect x="497.63" y="279.4" width="1.60" height="20.2" fill="#63c524"/>
<rect x="499.43" y="279.4" width="2.38" height="20.2" fill="#63c524"/>
<rect x="502.01" y="279.4" width="4.20" height="20.2" fill="#dda221"/>
<rect x="506.41" y="279.4" width="4.50" height="20.2" fill="#dda221"/>
<rect x="506.60" y="287.70" width="2.4" height="3.6" fill="#9c9c9c" fill-opacity="0.3"/>
<rect x="511.11" y="279.4" width="2.95" height="20.2" fill="#dda0dd"/>
<rect x="514.26" y="279.4" width="1.60" height="20.2" fill="#a9a9a9"/>
<rect x="516.06" y="279.4" width="1.50" height="20.2" fill="#a9a9a9"/>
<rect x="517.76" y="279.4" width="4.20" height="20.2" fill="#dda0dd"/>
<rect x="522.16" y="279.4" width="2.80" height="20.2" fill="#dda0dd"/>
<rect x="525.16" y="279.4" width="2.90" height="20.2" fill="#dda0dd"/>
<rect x="520.40" y="287.70" width="2.4" height="3.6" fill="#9c9c9c" fill-opacity="0.6"/>
<rect x="528.27" y="279.4" width="2.43" height="20.2" fill="#a9a9a9"/>
<rect x="530.89" y="279.4" width="2.20" height="20.2" fill="#dda0dd"/>
<rect x="533.29" y="279.4" width="2.20" height="20.2" fill="#dda0dd"/>
<rect x="535.69" y="279.4" width="2.80" height="20.2" fill="#dda0dd"/>
<rect x="538.69" y="279.4" width="4.20" height="20.2" fill="#dda0dd"/>
<rect x="543.09" y="279.4" width="5.80" height="20.2" fill="#dda0dd"/>
<rect x="549.09" y="279.4" width="1.73" height="20.2" fill="#dda0dd"/>
<rect x="533.84" y="287.70" width="1.4" height="3.6" fill="#9c9c9c" fill-opacity="0.3"/>
<rect x="546.92" y="287.70" width="3.0" height="3.6" fill="#9c9c9c" fill-opacity="0.3"/>
<rect x="553.65" y="279.4" width="2.20" height="20.2" fill="#dda0dd"/>
<rect x="556.05" y="279.4" width="5.80" height="20.2" fill="#dda0dd"/>
<rect x="562.05" y="279.4" width="2.78" height="20.2" fill="#dda0dd"/>
<rect x="560.34" y="287.70" width="3.0" height="3.6" fill="#9c9c9c" fill-opacity="0.45"/>
<rect x="565.02" y="279.4" width="2.43" height="20.2" fill="#63c524"/>
<rect x="567.65" y="279.4" width="3.30" height="20.2" fill="#dda0dd"/>
<rect x="571.15" y="279.4" width="4.20" height="20.2" fill="#63c524"/>
<rect x="575.55" y="279.4" width="3.28" height="20.2" fill="#63c524"/>
<rect x="576.62" y="287.70" width="3.0" height="3.6" fill="#9c9c9c" fill-opacity="0.3"/>
<rect x="579.03" y="279.4" width="1.60" height="20.2" fill="#dda0dd"/>
<rect x="580.83" y="279.4" width="1.60" height="20.2" fill="#dda0dd"/>
<rect x="582.63" y="279.4" width="1.60" height="20.2" fill="#dda0dd"/>
<rect x="584.43" y="279.4" width="4.20" height="20.2" fill="#dda0dd"/>
<rect x="588.83" y="279.4" width="1.60" height="20.2" fill="#dda0dd"/>
<rect x="590.63" y="279.4" width="3.40" height="20.2" fill="#dda0dd"/>
<rect x="594.23" y="279.4" width="2.20" height="20.2" fill="#dda0dd"/>
<rect x="596.63" y="279.4" width="2.20" height="20.2" fill="#dda0dd"/>
<rect x="599.03" y="279.4" width="2.20" height="20.2" fill="#dda0dd"/>
<rect x="601.43" y="279.4" width="1.60" height="20.2" fill="#dda0dd"/>
<rect x="603.23" y="279.4" width="5.80" height="20.2" fill="#dda0dd"/>
<rect x="609.23" y="279.4" width="1.60" height="20.2" fill="#dda0dd"/>
<rect x="611.03" y="279.4" width="1.60" height="20.2" fill="#dda0dd"/>
<rect x="612.83" y="279.4" width="4.20" height="20.2" fill="#dda0dd"/>
<rect x="617.23" y="279.4" width="4.20" height="20.2" fill="#dda0dd"/>
<rect x="621.63" y="279.4" width="1.30" height="20.2" fill="#dda0dd"/>
<rect x="586.67" y="287.70" width="1.8" height="3.6" fill="#9c9c9c" fill-opacity="0.45"/>
<rect x="594.67" y="287.70" width="3.0" height="3.6" fill="#9c9c9c" fill-opacity="0.6"/>
<rect x="602.41" y="287.70" width="2.4" height="3.6" fill="#9c9c9c" fill-opacity="0.3"/>
<rect x="611.42" y="287.70" width="1.4" height="3.6" fill="#9c9c9c" fill-opacity="0.6"/>
<rect x="626.63" y="279.4" width="5.00" height="20.2" fill="#a5e07c"/>
<rect x="631.83" y="279.4" width="4.20" height="20.2" fill="#a5e07c"/>
<rect x="636.23" y="279.4" width="2.45" height="20.2" fill="#a5e07c"/>
<rect x="630.88" y="287.70" width="3.0" height="3.6" fill="#9c9c9c" fill-opacity="0.6"/>
<rect x="638.88" y="279.4" width="1.60" height="20.2" fill="#63c524"/>
<rect x="640.68" y="279.4" width="5.88" height="20.2" fill="#63c524"/>
<rect x="646.76" y="279.4" width="1.90" height="20.2" fill="#a9a9a9"/>
<rect x="648.86" y="279.4" width="1.60" height="20.2" fill="#dda0dd"/>
<rect x="650.66" y="279.4" width="3.78" height="20.2" fill="#dda0dd"/>
<rect x="652.25" y="287.70" width="1.4" height="3.6" fill="#9c9c9c" fill-opacity="0.3"/>
<rect x="654.64" y="279.4" width="2.80" height="20.2" fill="#a9a9a9"/>
<rect x="657.64" y="279.4" width="2.05" height="20.2" fill="#a9a9a9"/>
<rect x="659.89" y="279.4" width="2.80" height="20.2" fill="#dda221"/>
<rect x="662.89" y="279.4" width="5.00" height="20.2" fill="#dda221"/>
<rect x="668.09" y="279.4" width="1.60" height="20.2" fill="#dda221"/>
<rect x="669.89" y="279.4" width="2.05" height="20.2" fill="#dda221"/>
<rect x="665.70" y="287.70" width="3.0" height="3.6" fill="#9c9c9c" fill-opacity="0.6"/>
<rect x="672.14" y="279.4" width="4.20" height="20.2" fill="#63c524"/>
<rect x="676.54" y="279.4" width="1.53" height="20.2" fill="#63c524"/>
<rect x="675.91" y="287.70" width="1.8" height="3.6" fill="#9c9c9c" fill-opacity="0.3"/>
<rect x="678.27" y="279.4" width="2.43" height="20.2" fill="#a9a9a9"/>
<rect x="680.89" y="279.4" width="2.43" height="20.2" fill="#dda0dd"/>
<rect x="683.52" y="279.4" width="2.20" height="20.2" fill="#63c524"/>
<rect x="685.92" y="279.4" width="2.20" height="20.2" fill="#63c524"/>
<rect x="688.32" y="279.4" width="1.65" height="20.2" fill="#63c524"/>
<rect x="690.17" y="279.4" width="2.20" height="20.2" fill="#dda221"/>
<rect x="692.57" y="279.4" width="3.35" height="20.2" fill="#dda221"/>
<rect x="696.12" y="279.4" width="2.20" height="20.2" fill="#dda0dd"/>
<rect x="698.52" y="279.4" width="2.30" height="20.2" fill="#dda0dd"/>
<rect x="705.92" y="279.4" width="5.00" height="20.2" fill="#dda0dd"/>
<rect x="711.12" y="279.4" width="5.00" height="20.2" fill="#dda0dd"/>
<rect x="716.32" y="279.4" width="2.00" height="20.2" fill="#dda0dd"/>
<rect x="712.97" y="287.70" width="3.0" height="3.6" fill="#9c9c9c" fill-opacity="0.45"/>
<rect x="718.52" y="279.4" width="1.55" height="20.2" fill="#63c524"/>
<rect x="720.27" y="279.4" width="1.60" height="20.2" fill="#dda0dd"/>
<rect x="722.07" y="279.4" width="3.25" height="20.2" fill="#dda0dd"/>
<rect x="725.53" y="279.4" width="2.20" height="20.2" fill="#63c524"/>
<rect x="727.93" y="279.4" width="4.20" height="20.2" fill="#63c524"/>
<rect x="732.33" y="279.4" width="2.80" height="20.2" fill="#63c524"/>
<rect x="735.33" y="279.4" width="5.75" height="20.2" fill="#63c524"/>
<rect x="728.80" y="287.70" width="1.4" height="3.6" fill="#9c9c9c" fill-opacity="0.6"/>
<rect x="741.28" y="279.4" width="2.20" height="20.2" fill="#dda0dd"/>
<rect x="743.68" y="279.4" width="1.78" height="20.2" fill="#dda0dd"/>
<rect x="743.44" y="287.70" width="1.4" height="3.6" fill="#9c9c9c" fill-opacity="0.6"/>
<rect x="745.66" y="279.4" width="3.30" height="20.2" fill="#63c524"/>
<rect x="749.16" y="279.4" width="2.43" height="20.2" fill="#dda0dd"/>
<rect x="751.78" y="279.4" width="1.55" height="20.2" fill="#a9a9a9"/>
<rect x="753.53" y="279.4" width="2.43" height="20.2" fill="#dda221"/>
<rect x="756.16" y="279.4" width="1.55" height="20.2" fill="#a9a9a9"/>
<rect x="757.91" y="279.4" width="1.90" height="20.2" fill="#60c5cf"/>
<rect x="760.00" y="279.4" width="1.90" height="20.2" fill="#dda0dd"/>
<rect x="164.90" y="313.40" width="283.38" height="3.8" fill="#a2a2a2"/>
<rect x="164.90" y="305.2" width="2.20" height="20.2" fill="#a9a9a9"/>
<rect x="167.30" y="305.2" width="1.25" height="20.2" fill="#a9a9a9"/>
<rect x="168.75" y="305.2" width="4.20" height="20.2" fill="#dda0dd"/>
<rect x="173.15" y="305.2" width="5.00" height="20.2" fill="#dda0dd"/>
<rect x="178.35" y="305.2" width="1.60" height="20.2" fill="#dda0dd"/>
<rect x="180.15" y="305.2" width="2.40" height="20.2" fill="#dda0dd"/>
<rect x="175.29" y="313.50" width="3.0" height="3.6" fill="#9c9c9c" fill-opacity="0.3"/>
<rect x="182.76" y="305.2" width="2.20" height="20.2" fill="#dda221"/>
<rect x="185.16" y="305.2" width="0.90" height="20.2" fill="#dda221"/>
<rect x="186.26" y="305.2" width="1.20" height="20.2" fill="#a9a9a9"/>
<rect x="187.66" y="305.2" width="1.03" height="20.2" fill="#dda0dd"/>
<rect x="188.88" y="305.2" width="5.80" height="20.2" fill="#dda221"/>
<rect x="194.88" y="305.2" width="2.55" height="20.2" fill="#dda221"/>
<rect x="194.67" y="313.50" width="2.4" height="3.6" fill="#9c9c9c" fill-opacity="0.45"/>
<rect x="197.63" y="305.2" width="1.55" height="20.2" fill="#f8cf76"/>
<rect x="199.38" y="305.2" width="5.00" height="20.2" fill="#dda221"/>
<rect x="204.58" y="305.2" width="2.20" height="20.2" fill="#dda221"/>
<rect x="206.98" y="305.2" width="2.80" height="20.2" fill="#dda221"/>
<rect x="209.98" y="305.2" width="2.80" height="20.2" fill="#dda221"/>
<rect x="212.98" y="305.2" width="2.80" height="20.2" fill="#dda221"/>
<rect x="215.98" y="305.2" width="3.40" height="20.2" fill="#dda221"/>
<rect x="219.58" y="305.2" width="2.80" height="20.2" fill="#dda221"/>
<rect x="222.58" y="305.2" width="1.60" height="20.2" fill="#dda221"/>
<rect x="224.38" y="305.2" width="2.80" height="20.2" fill="#dda221"/>
<rect x="227.38" y="305.2" width="2.43" height="20.2" fill="#dda221"/>
<rect x="206.96" y="313.50" width="1.4" height="3.6" fill="#9c9c9c" fill-opacity="0.6"/>
<rect x="220.56" y="313.50" width="2.4" height="3.6" fill="#9c9c9c" fill-opacity="0.6"/>
<rect x="230.02" y="305.2" width="2.43" height="20.2" fill="#dda0dd"/>
<rect x="232.64" y="305.2" width="1.55" height="20.2" fill="#a9a9a9"/>
<rect x="234.39" y="305.2" width="2.43" height="20.2" fill="#a5e07c"/>
<rect x="237.02" y="305.2" width="4.20" height="20.2" fill="#dda221"/>
<rect x="241.42" y="305.2" width="2.40" height="20.2" fill="#dda221"/>
<rect x="239.61" y="313.50" width="3.0" height="3.6" fill="#9c9c9c" fill-opacity="0.6"/>
<rect x="244.02" y="305.2" width="2.43" height="20.2" fill="#f8cf76"/>
<rect x="246.64" y="305.2" width="3.30" height="20.2" fill="#dda0dd"/>
<rect x="250.15" y="305.2" width="3.30" height="20.2" fill="#a9a9a9"/>
<rect x="253.65" y="305.2" width="2.20" height="20.2" fill="#63c524"/>
<rect x="256.05" y="305.2" width="3.40" height="20.2" fill="#63c524"/>
<rect x="259.65" y="305.2" width="1.60" height="20.2" fill="#63c524"/>
<rect x="261.45" y="305.2" width="4.20" height="20.2" fill="#63c524"/>
<rect x="265.85" y="305.2" width="2.20" height="20.2" fill="#63c524"/>
<rect x="268.25" y="305.2" width="2.80" height="20.2" fill="#63c524"/>
<rect x="271.25" y="305.2" width="5.80" height="20.2" fill="#63c524"/>
<rect x="277.25" y="305.2" width="5.80" height="20.2" fill="#63c524"/>
<rect x="283.25" y="305.2" width="1.71" height="20.2" fill="#63c524"/>
<rect x="255.67" y="313.50" width="3.0" height="3.6" fill="#9c9c9c" fill-opacity="0.3"/>
<rect x="266.59" y="313.50" width="1.8" height="3.6" fill="#9c9c9c" fill-opacity="0.45"/>
<rect x="278.51" y="313.50" width="2.4" height="3.6" fill="#9c9c9c" fill-opacity="0.6"/>
<rect x="287.78" y="305.2" width="1.55" height="20.2" fill="#a9a9a9"/>
<rect x="289.53" y="305.2" width="1.55" height="20.2" fill="#a5e07c"/>
<rect x="294.78" y="305.2" width="2.20" height="20.2" fill="#a5e07c"/>
<rect x="297.18" y="305.2" width="1.60" height="20.2" fill="#a5e07c"/>
<rect x="298.98" y="305.2" width="5.00" height="20.2" fill="#a5e07c"/>
<rect x="304.18" y="305.2" width="5.63" height="20.2" fill="#a5e07c"/>
<rect x="297.27" y="313.50" width="1.4" height="3.6" fill="#9c9c9c" fill-opacity="0.6"/>
<rect x="306.53" y="313.50" width="1.4" height="3.6" fill="#9c9c9c" fill-opacity="0.45"/>
<rect x="310.00" y="305.2" width="1.55" height="20.2" fill="#63c524"/>
<rect x="311.75" y="305.2" width="3.30" height="20.2" fill="#a5e07c"/>
<rect x="315.25" y="305.2" width="2.20" height="20.2" fill="#63c524"/>
<rect x="317.65" y="305.2" width="2.80" height="20.2" fill="#63c524"/>
<rect x="320.65" y="305.2" width="2.80" height="20.2" fill="#63c524"/>
<rect x="323.65" y="305.2" width="3.40" height="20.2" fill="#63c524"/>
<rect x="327.25" y="305.2" width="1.80" height="20.2" fill="#63c524"/>
<rect x="320.26" y="313.50" width="3.0" height="3.6" fill="#9c9c9c" fill-opacity="0.6"/>
<rect x="329.25" y="305.2" width="3.40" height="20.2" fill="#dda0dd"/>
<rect x="332.85" y="305.2" width="2.20" height="20.2" fill="#dda0dd"/>
<rect x="335.25" y="305.2" width="0.80" height="20.2" fill="#dda0dd"/>
<rect x="336.26" y="305.2" width="5.00" height="20.2" fill="#a5e07c"/>
<rect x="341.46" y="305.2" width="4.23" height="20.2" fill="#a5e07c"/>
<rect x="341.89" y="313.50" width="1.4" height="3.6" fill="#9c9c9c" fill-opacity="0.45"/>
<rect x="345.88" y="305.2" width="2.43" height="20.2" fill="#dda0dd"/>
<rect x="348.51" y="305.2" width="2.43" height="20.2" fill="#63c524"/>
<rect x="351.13" y="305.2" width="4.20" height="20.2" fill="#dda0dd"/>
<rect x="355.53" y="305.2" width="4.15" height="20.2" fill="#dda0dd"/>
<rect x="355.07" y="313.50" width="3.0" height="3.6" fill="#9c9c9c" fill-opacity="0.45"/>
<rect x="359.89" y="305.2" width="2.80" height="20.2" fill="#63c524"/>
<rect x="362.89" y="305.2" width="2.93" height="20.2" fill="#63c524"/>
<rect x="363.27" y="313.50" width="2.4" height="3.6" fill="#9c9c9c" fill-opacity="0.45"/>
<rect x="366.01" y="305.2" width="5.00" height="20.2" fill="#a5e07c"/>
<rect x="371.21" y="305.2" width="2.20" height="20.2" fill="#a5e07c"/>
<rect x="373.61" y="305.2" width="3.58" height="20.2" fill="#a5e07c"/>
<rect x="369.16" y="313.50" width="2.4" height="3.6" fill="#9c9c9c" fill-opacity="0.6"/>
<rect x="379.14" y="305.2" width="4.18" height="20.2" fill="#a5e07c"/>
<rect x="383.52" y="305.2" width="1.90" height="20.2" fill="#63c524"/>
<rect x="385.62" y="305.2" width="1.20" height="20.2" fill="#a9a9a9"/>
<rect x="387.02" y="305.2" width="4.18" height="20.2" fill="#a5e07c"/>
<rect x="391.39" y="305.2" width="2.20" height="20.2" fill="#63c524"/>
<rect x="393.79" y="305.2" width="2.80" height="20.2" fill="#63c524"/>
<rect x="396.79" y="305.2" width="2.20" height="20.2" fill="#63c524"/>
<rect x="399.19" y="305.2" width="2.80" height="20.2" fill="#63c524"/>
<rect x="402.19" y="305.2" width="3.88" height="20.2" fill="#63c524"/>
<rect x="399.36" y="313.50" width="1.8" height="3.6" fill="#9c9c9c" fill-opacity="0.6"/>
<rect x="408.90" y="305.2" width="2.43" height="20.2" fill="#dda0dd"/>
<rect x="411.52" y="305.2" width="2.20" height="20.2" fill="#dda221"/>
<rect x="413.92" y="305.2" width="3.00" height="20.2" fill="#dda221"/>
<rect x="417.12" y="305.2" width="2.08" height="20.2" fill="#f8cf76"/>
<rect x="419.40" y="305.2" width="2.20" height="20.2" fill="#dda0dd"/>
<rect x="421.80" y="305.2" width="1.78" height="20.2" fill="#dda0dd"/>
<rect x="423.78" y="305.2" width="2.43" height="20.2" fill="#63c524"/>
<rect x="426.40" y="305.2" width="4.18" height="20.2" fill="#dda0dd"/>
<rect x="430.78" y="305.2" width="1.60" height="20.2" fill="#a9a9a9"/>
<rect x="432.58" y="305.2" width="1.50" height="20.2" fill="#a9a9a9"/>
<rect x="434.28" y="305.2" width="2.43" height="20.2" fill="#dda0dd"/>
<rect x="436.90" y="305.2" width="2.80" height="20.2" fill="#a9a9a9"/>
<rect x="439.90" y="305.2" width="1.18" height="20.2" fill="#a9a9a9"/>
<rect x="441.28" y="305.2" width="1.60" height="20.2" fill="#63c524"/>
<rect x="443.08" y="305.2" width="1.15" height="20.2" fill="#63c524"/>
<rect x="444.43" y="305.2" width="3.65" height="20.2" fill="#60c5cf"/>
<rect x="164.0" y="327.7" width="884.8" height="1" fill="#b4b4b4"/>
<rect x="164.0" y="327.7" width="1" height="5.3" fill="#b4b4b4"/>
<rect x="356.7" y="327.7" width="1" height="5.3" fill="#b4b4b4"/>
<rect x="549.4" y="327.7" width="1" height="5.3" fill="#b4b4b4"/>
<rect x="742.1" y="327.7" width="1" height="5.3" fill="#b4b4b4"/>
<rect x="934.9" y="327.7" width="1" height="5.3" fill="#b4b4b4"/>
<rect x="1047.8" y="327.7" width="1" height="5.3" fill="#b4b4b4"/>
<text x="164.5" y="348.5" text-anchor="middle" class="ax">0</text>
<text x="357.2" y="348.5" text-anchor="middle" class="ax">25,000</text>
<text x="549.9" y="348.5" text-anchor="middle" class="ax">50,000</text>
<text x="742.6" y="348.5" text-anchor="middle" class="ax">75,000</text>
<text x="935.4" y="348.5" text-anchor="middle" class="ax">100,000</text>
<text x="606.2" y="365" text-anchor="middle" class="ax">Elapsed time [ms]</text>
<text x="110.3" y="216.1" class="ax">5706h</text>
<text x="110.3" y="241.8" class="ax">5707h</text>
<text x="110.3" y="267.6" class="ax">5711h</text>
<text x="110.3" y="293.4" class="ax">5720h</text>
<text x="110.3" y="319.2" class="ax">5719h</text>
<text x="164.6" y="380.2" class="lh">Fixations</text>
<rect x="164.4" y="391.0" width="20.6" height="20.2" fill="#60c5cf"/>
<text x="193.7" y="405.2" class="ax">Filter</text>
<rect x="314.4" y="391.0" width="20.6" height="20.2" fill="#f8cf76"/>
<text x="343.7" y="405.2" class="ax">Logo</text>
<rect x="464.4" y="391.0" width="20.6" height="20.2" fill="#dda221"/>
<text x="493.7" y="405.2" class="ax">Title</text>
<rect x="614.4" y="391.0" width="20.6" height="20.2" fill="#a5e07c"/>
<text x="643.7" y="405.2" class="ax">Xaxis</text>
<rect x="764.4" y="391.0" width="20.6" height="20.2" fill="#63c524"/>
<text x="793.7" y="405.2" class="ax">Yaxis</text>
<rect x="914.4" y="391.0" width="20.6" height="20.2" fill="#ffb6c1"/>
<text x="943.7" y="405.2" class="ax">Markers</text>
<rect x="164.4" y="414.6" width="20.6" height="20.2" fill="#dda0dd"/>
<text x="193.7" y="428.8" class="ax">Visualization</text>
<rect x="314.4" y="414.6" width="20.6" height="20.2" fill="#a9a9a9"/>
<text x="343.7" y="428.8" class="ax">No AOI hit</text>
<text x="164.6" y="462.2" class="lh">Non-fixations</text>
<rect x="164.4" y="480.7" width="20.6" height="4.2" fill="#555"/>
<text x="193.7" y="486.8" class="ax">Saccade</text>
<rect x="314.4" y="480.7" width="20.6" height="4.2" fill="#a9a9a9"/>
<text x="343.7" y="486.8" class="ax">Other</text>
</svg>

<!-- resize handle -->
<svg class="abs" style="left:1098px;top:564px;width:14px;height:14px" viewBox="0 0 14 14"><path d="M1.800 11.200H11.300V1.700" fill="none" stroke="#bdbdc1" stroke-width="1.5"/></svg>

<!-- Bar Plot window -->
<div class="win" style="left:1022.2px;top:590.8px;width:300px;height:300px"></div>
<div class="body" style="left:1023.8px;top:639.8px;width:300px;height:300px"></div>
<div class="hb" style="left:1043.6px;top:603.1px"><svg viewBox="0 0 25.6 25.6"><g fill="#8a8a90"><circle cx="10.100" cy="10.100" r="1.500"/><circle cx="15.700" cy="10.100" r="1.500"/><circle cx="10.100" cy="15.700" r="1.500"/><circle cx="15.700" cy="15.700" r="1.500"/></g></svg></div>
<div class="hb" style="left:1076px;top:603.1px"><svg viewBox="0 0 25.6 25.6"><g fill="none" stroke="#77777d" stroke-width="1.25" stroke-linejoin="round" stroke-linecap="round"><rect x="10.900" y="10.100" width="8" height="8" rx="2.200"/><path d="M10.900 15.100H9.900a2 2 0 0 1-2-2V9.100a2 2 0 0 1 2-2H13.900a2 2 0 0 1 2 2V10"/></g></svg></div>
<div class="ttl" style="left:1108.3px;top:607.5px">Bar Plot</div>
<svg class="abs" viewBox="0 0 1200 800" style="left:0;top:0;width:1200px;height:800px;overflow:visible"><g fill="#fff" stroke="#888888" stroke-width="1.3"><rect x="1043.600" y="661.050" width="144.400" height="34" rx="4.500"/><rect x="1193.900" y="661.050" width="144.400" height="34" rx="4.500"/></g></svg>
<div class="sel" style="left:1044.1px;top:661.300px"><span class="lb">STIMULUS</span><span class="v">Task2</span><svg viewBox="0 0 24 24"><path d="m6 9 6 6 6-6"/></svg></div>
<div class="abs" style="left:1126.500px;top:747.1px;width:80px;height:1px;background:#dcdcdc"></div>
<div class="abs" style="left:1126.5px;top:747.1px;width:1px;height:60px;background:#dcdcdc"></div>
<div class="abs" style="left:1127.4px;top:768.4px;width:80px;height:25.6px;background:#dda0dd"></div>
<div class="abs" style="left:1021.6px;top:774.600px;width:100px;text-align:right;font-size:12.5px;line-height:14px;color:#1a1a1a">Visualization</div>

<!-- annotation -->
<svg id="ann" class="abs" viewBox="0 0 1200 800">
  <circle cx="156.4" cy="100" r="28.9" fill="none" stroke="#ff3131" stroke-width="7.4"/>
  <g fill="#ff3131">
    <path d="M185.400 24h2.400q1.200 0 1.200 1.200V64.500H221q1.200 0 1.200 1.200v1.900q0 1.200-1.200 1.200H185.800q-1.800 0-1.800-1.800V25.400q0-1.400 1.400-1.400z"/>
    <path d="M194 15.900H210q1.700 0 1.700 1.700V30.600q0 2.200 2.200 2.200H229.200q1.800 0 1.800 1.800V59q0 2-2 2H194q-2 0-2-2V17.900q0-2 2-2z"/>
    <path d="M213.900 17.200q0-1.500 1.100-.5L230.300 30q1 .8-.5.800H215q-1.100 0-1.100-1.100z"/>
  </g>
</svg>
</body>
</html>
